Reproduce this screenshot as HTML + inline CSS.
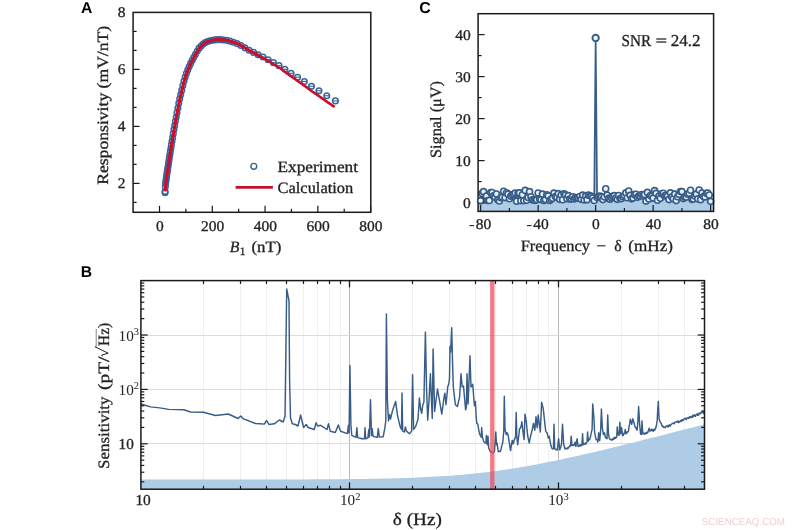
<!DOCTYPE html>
<html><head><meta charset="utf-8"><title>Figure</title>
<style>html,body{margin:0;padding:0;background:#fff;}body{width:800px;height:530px;overflow:hidden;font-family:"Liberation Serif",serif;}svg{display:block;will-change:transform;}text{text-rendering:geometricPrecision;}</style>
</head><body>
<svg width="800" height="530" viewBox="0 0 800 530">
<rect width="800" height="530" fill="#ffffff"/>
<g id="panelA">
<circle cx="165.10" cy="191.50" r="2.8" fill="none" stroke="#36659a" stroke-width="1.5"/>
<circle cx="165.04" cy="192.70" r="2.8" fill="none" stroke="#36659a" stroke-width="1.5"/>
<circle cx="165.31" cy="186.84" r="2.8" fill="none" stroke="#36659a" stroke-width="1.5"/>
<circle cx="165.60" cy="183.57" r="2.8" fill="none" stroke="#36659a" stroke-width="1.5"/>
<circle cx="165.90" cy="181.15" r="2.8" fill="none" stroke="#36659a" stroke-width="1.5"/>
<circle cx="166.21" cy="178.97" r="2.8" fill="none" stroke="#36659a" stroke-width="1.5"/>
<circle cx="166.54" cy="176.52" r="2.8" fill="none" stroke="#36659a" stroke-width="1.5"/>
<circle cx="166.89" cy="174.15" r="2.8" fill="none" stroke="#36659a" stroke-width="1.5"/>
<circle cx="167.25" cy="171.81" r="2.8" fill="none" stroke="#36659a" stroke-width="1.5"/>
<circle cx="167.63" cy="169.36" r="2.8" fill="none" stroke="#36659a" stroke-width="1.5"/>
<circle cx="168.03" cy="166.72" r="2.8" fill="none" stroke="#36659a" stroke-width="1.5"/>
<circle cx="168.45" cy="163.97" r="2.8" fill="none" stroke="#36659a" stroke-width="1.5"/>
<circle cx="168.89" cy="161.10" r="2.8" fill="none" stroke="#36659a" stroke-width="1.5"/>
<circle cx="169.35" cy="158.09" r="2.8" fill="none" stroke="#36659a" stroke-width="1.5"/>
<circle cx="169.84" cy="154.92" r="2.8" fill="none" stroke="#36659a" stroke-width="1.5"/>
<circle cx="170.34" cy="151.63" r="2.8" fill="none" stroke="#36659a" stroke-width="1.5"/>
<circle cx="170.88" cy="148.27" r="2.8" fill="none" stroke="#36659a" stroke-width="1.5"/>
<circle cx="171.44" cy="144.83" r="2.8" fill="none" stroke="#36659a" stroke-width="1.5"/>
<circle cx="172.02" cy="141.27" r="2.8" fill="none" stroke="#36659a" stroke-width="1.5"/>
<circle cx="172.64" cy="137.57" r="2.8" fill="none" stroke="#36659a" stroke-width="1.5"/>
<circle cx="173.28" cy="133.67" r="2.8" fill="none" stroke="#36659a" stroke-width="1.5"/>
<circle cx="173.96" cy="129.59" r="2.8" fill="none" stroke="#36659a" stroke-width="1.5"/>
<circle cx="174.67" cy="125.45" r="2.8" fill="none" stroke="#36659a" stroke-width="1.5"/>
<circle cx="175.42" cy="121.34" r="2.8" fill="none" stroke="#36659a" stroke-width="1.5"/>
<circle cx="176.20" cy="117.18" r="2.8" fill="none" stroke="#36659a" stroke-width="1.5"/>
<circle cx="177.02" cy="112.78" r="2.8" fill="none" stroke="#36659a" stroke-width="1.5"/>
<circle cx="177.89" cy="108.01" r="2.8" fill="none" stroke="#36659a" stroke-width="1.5"/>
<circle cx="178.79" cy="103.24" r="2.8" fill="none" stroke="#36659a" stroke-width="1.5"/>
<circle cx="179.74" cy="98.81" r="2.8" fill="none" stroke="#36659a" stroke-width="1.5"/>
<circle cx="180.73" cy="94.52" r="2.8" fill="none" stroke="#36659a" stroke-width="1.5"/>
<circle cx="181.78" cy="90.13" r="2.8" fill="none" stroke="#36659a" stroke-width="1.5"/>
<circle cx="182.87" cy="85.48" r="2.8" fill="none" stroke="#36659a" stroke-width="1.5"/>
<circle cx="184.02" cy="80.97" r="2.8" fill="none" stroke="#36659a" stroke-width="1.5"/>
<circle cx="185.23" cy="76.98" r="2.8" fill="none" stroke="#36659a" stroke-width="1.5"/>
<circle cx="186.49" cy="73.28" r="2.8" fill="none" stroke="#36659a" stroke-width="1.5"/>
<circle cx="187.82" cy="69.83" r="2.8" fill="none" stroke="#36659a" stroke-width="1.5"/>
<circle cx="189.21" cy="66.57" r="2.8" fill="none" stroke="#36659a" stroke-width="1.5"/>
<circle cx="190.67" cy="63.42" r="2.8" fill="none" stroke="#36659a" stroke-width="1.5"/>
<circle cx="192.21" cy="60.35" r="2.8" fill="none" stroke="#36659a" stroke-width="1.5"/>
<circle cx="193.81" cy="57.32" r="2.8" fill="none" stroke="#36659a" stroke-width="1.5"/>
<circle cx="195.50" cy="54.22" r="2.8" fill="none" stroke="#36659a" stroke-width="1.5"/>
<circle cx="197.27" cy="51.03" r="2.8" fill="none" stroke="#36659a" stroke-width="1.5"/>
<circle cx="199.13" cy="48.16" r="2.8" fill="none" stroke="#36659a" stroke-width="1.5"/>
<circle cx="201.08" cy="45.97" r="2.8" fill="none" stroke="#36659a" stroke-width="1.5"/>
<circle cx="203.12" cy="44.09" r="2.8" fill="none" stroke="#36659a" stroke-width="1.5"/>
<circle cx="205.27" cy="42.59" r="2.8" fill="none" stroke="#36659a" stroke-width="1.5"/>
<circle cx="207.52" cy="41.59" r="2.8" fill="none" stroke="#36659a" stroke-width="1.5"/>
<circle cx="209.88" cy="40.81" r="2.8" fill="none" stroke="#36659a" stroke-width="1.5"/>
<circle cx="212.36" cy="40.27" r="2.8" fill="none" stroke="#36659a" stroke-width="1.5"/>
<circle cx="214.96" cy="39.89" r="2.8" fill="none" stroke="#36659a" stroke-width="1.5"/>
<circle cx="217.68" cy="39.63" r="2.8" fill="none" stroke="#36659a" stroke-width="1.5"/>
<circle cx="220.54" cy="39.66" r="2.8" fill="none" stroke="#36659a" stroke-width="1.5"/>
<circle cx="223.55" cy="39.93" r="2.8" fill="none" stroke="#36659a" stroke-width="1.5"/>
<circle cx="226.69" cy="40.37" r="2.8" fill="none" stroke="#36659a" stroke-width="1.5"/>
<circle cx="230.00" cy="41.16" r="2.8" fill="none" stroke="#36659a" stroke-width="1.5"/>
<circle cx="233.46" cy="42.18" r="2.8" fill="none" stroke="#36659a" stroke-width="1.5"/>
<circle cx="237.10" cy="43.58" r="2.8" fill="none" stroke="#36659a" stroke-width="1.5"/>
<circle cx="240.92" cy="45.57" r="2.8" fill="none" stroke="#36659a" stroke-width="1.5"/>
<circle cx="244.92" cy="47.84" r="2.8" fill="none" stroke="#36659a" stroke-width="1.5"/>
<circle cx="249.12" cy="50.28" r="2.8" fill="none" stroke="#36659a" stroke-width="1.5"/>
<circle cx="253.53" cy="52.39" r="2.8" fill="none" stroke="#36659a" stroke-width="1.5"/>
<line x1="250.93" y1="52.39" x2="256.13" y2="52.39" stroke="#36659a" stroke-width="1.1"/>
<circle cx="258.15" cy="54.77" r="2.8" fill="none" stroke="#36659a" stroke-width="1.5"/>
<line x1="255.55" y1="54.77" x2="260.75" y2="54.77" stroke="#36659a" stroke-width="1.1"/>
<circle cx="263.00" cy="57.05" r="2.8" fill="none" stroke="#36659a" stroke-width="1.5"/>
<line x1="260.40" y1="57.05" x2="265.60" y2="57.05" stroke="#36659a" stroke-width="1.1"/>
<circle cx="268.09" cy="59.68" r="2.8" fill="none" stroke="#36659a" stroke-width="1.5"/>
<line x1="265.49" y1="59.68" x2="270.69" y2="59.68" stroke="#36659a" stroke-width="1.1"/>
<circle cx="273.43" cy="62.67" r="2.8" fill="none" stroke="#36659a" stroke-width="1.5"/>
<line x1="270.83" y1="62.67" x2="276.03" y2="62.67" stroke="#36659a" stroke-width="1.1"/>
<circle cx="279.03" cy="65.63" r="2.8" fill="none" stroke="#36659a" stroke-width="1.5"/>
<line x1="276.43" y1="65.63" x2="281.63" y2="65.63" stroke="#36659a" stroke-width="1.1"/>
<circle cx="284.91" cy="69.30" r="2.8" fill="none" stroke="#36659a" stroke-width="1.5"/>
<line x1="282.31" y1="69.30" x2="287.51" y2="69.30" stroke="#36659a" stroke-width="1.1"/>
<circle cx="291.08" cy="73.27" r="2.8" fill="none" stroke="#36659a" stroke-width="1.5"/>
<line x1="288.48" y1="73.27" x2="293.68" y2="73.27" stroke="#36659a" stroke-width="1.1"/>
<circle cx="297.55" cy="77.22" r="2.8" fill="none" stroke="#36659a" stroke-width="1.5"/>
<line x1="294.95" y1="77.22" x2="300.15" y2="77.22" stroke="#36659a" stroke-width="1.1"/>
<circle cx="304.34" cy="81.43" r="2.8" fill="none" stroke="#36659a" stroke-width="1.5"/>
<line x1="301.74" y1="81.43" x2="306.94" y2="81.43" stroke="#36659a" stroke-width="1.1"/>
<circle cx="311.46" cy="86.22" r="2.8" fill="none" stroke="#36659a" stroke-width="1.5"/>
<line x1="308.86" y1="86.22" x2="314.06" y2="86.22" stroke="#36659a" stroke-width="1.1"/>
<circle cx="318.93" cy="90.75" r="2.8" fill="none" stroke="#36659a" stroke-width="1.5"/>
<line x1="316.33" y1="90.75" x2="321.53" y2="90.75" stroke="#36659a" stroke-width="1.1"/>
<circle cx="326.77" cy="95.73" r="2.8" fill="none" stroke="#36659a" stroke-width="1.5"/>
<line x1="324.17" y1="95.73" x2="329.37" y2="95.73" stroke="#36659a" stroke-width="1.1"/>
<circle cx="335.40" cy="100.90" r="2.8" fill="none" stroke="#36659a" stroke-width="1.5"/>
<line x1="332.80" y1="100.90" x2="338.00" y2="100.90" stroke="#36659a" stroke-width="1.1"/>
<path d="M165.35,190.12 L165.79,183.61 L166.23,180.21 L166.67,177.00 L167.11,173.97 L167.56,171.13 L168.00,168.26 L168.44,165.35 L168.88,162.47 L169.32,159.59 L169.76,156.71 L170.20,153.83 L170.64,150.99 L171.08,148.22 L171.53,145.50 L171.97,142.82 L172.41,140.16 L172.85,137.51 L173.29,134.85 L173.73,132.18 L174.17,129.53 L174.61,126.94 L175.06,124.43 L175.50,122.01 L175.94,119.65 L176.38,117.31 L176.82,114.97 L177.26,112.58 L177.70,110.14 L178.14,107.70 L178.58,105.32 L179.03,103.06 L179.47,100.96 L179.91,98.95 L180.35,97.01 L180.79,95.13 L181.23,93.27 L181.67,91.42 L182.11,89.55 L182.55,87.67 L183.00,85.80 L183.44,83.99 L183.88,82.25 L184.32,80.63 L184.76,79.13 L185.20,77.70 L185.64,76.32 L186.08,75.01 L186.52,73.74 L186.97,72.53 L187.41,71.37 L187.85,70.25 L188.29,69.18 L188.73,68.13 L189.17,67.11 L189.61,66.12 L190.05,65.15 L190.49,64.21 L190.94,63.29 L191.38,62.39 L191.82,61.50 L192.26,60.64 L192.70,59.79 L193.14,58.95 L193.58,58.12 L194.02,57.30 L194.47,56.50 L194.91,55.69 L195.35,54.88 L195.78,54.06 L196.22,53.25 L196.66,52.45 L197.09,51.66 L197.53,50.90 L197.97,50.16 L198.40,49.45 L198.84,48.79 L199.28,48.17 L199.71,47.61 L200.15,47.10 L200.65,46.57 L201.86,45.33 L203.08,44.23 L204.30,43.28 L205.52,42.50 L206.74,41.93 L207.96,41.45 L209.18,41.04 L210.40,40.69 L211.61,40.41 L212.83,40.20 L214.05,40.02 L215.27,39.85 L216.51,39.71 L217.74,39.62 L218.97,39.60 L220.20,39.64 L221.43,39.72 L222.66,39.83 L223.89,39.97 L225.12,40.11 L226.36,40.30 L227.59,40.55 L228.82,40.85 L230.05,41.17 L231.28,41.51 L232.51,41.87 L233.74,42.28 L234.97,42.72 L236.20,43.20 L237.44,43.72 L238.67,44.31 L239.90,44.98 L241.13,45.70 L242.36,46.41 L243.59,47.10 L244.82,47.78 L246.05,48.51 L247.29,49.25 L248.52,50.03 L249.75,50.79 L250.98,51.47 L252.21,52.06 L253.44,52.61 L254.67,53.19 L255.90,53.87 L257.13,54.62 L258.37,55.39 L259.60,56.13 L260.83,56.78 L262.06,57.38 L263.29,57.97 L264.52,58.59 L265.75,59.29 L266.98,60.05 L268.22,60.85 L269.45,61.64 L270.68,62.42 L271.91,63.20 L273.14,63.97 L274.37,64.74 L275.60,65.50 L276.83,66.26 L278.07,67.00 L279.30,67.74 L280.53,68.50 L281.76,69.33 L282.99,70.23 L284.22,71.18 L285.45,72.15 L286.68,73.10 L287.91,74.01 L289.15,74.90 L290.38,75.77 L291.61,76.63 L292.84,77.50 L294.07,78.38 L295.30,79.25 L296.53,80.12 L297.76,80.99 L299.00,81.86 L300.23,82.74 L301.46,83.60 L302.69,84.45 L303.92,85.32 L305.15,86.20 L306.38,87.09 L307.61,88.01 L308.84,88.96 L310.08,89.91 L311.31,90.84 L312.54,91.74 L313.77,92.60 L315.00,93.43 L316.23,94.25 L317.46,95.06 L318.69,95.89 L319.93,96.74 L321.16,97.61 L322.39,98.49 L323.62,99.38 L324.85,100.27 L326.08,101.15 L327.31,102.01 L328.54,102.85 L329.78,103.69 L331.01,104.51 L332.24,105.34 L333.47,106.16 L334.70,106.98" fill="none" stroke="#c8102e" stroke-width="2.6" stroke-linecap="butt" stroke-linejoin="round"/>
<path d="M165.35,190.12 L165.79,183.61 L166.23,180.21 L166.67,177.00 L167.11,173.97 L167.56,171.13 L168.00,168.26 L168.44,165.35 L168.88,162.47 L169.32,159.59 L169.76,156.71 L170.20,153.83 L170.64,150.99 L171.08,148.22 L171.53,145.50 L171.97,142.82 L172.41,140.16 L172.85,137.51 L173.29,134.85 L173.73,132.18 L174.17,129.53 L174.61,126.94 L175.06,124.43 L175.50,122.01 L175.94,119.65 L176.38,117.31 L176.82,114.97 L177.26,112.58 L177.70,110.14 L178.14,107.70 L178.58,105.32 L179.03,103.06 L179.47,100.96 L179.91,98.95 L180.35,97.01 L180.79,95.13 L181.23,93.27 L181.67,91.42 L182.11,89.55 L182.55,87.67 L183.00,85.80 L183.44,83.99 L183.88,82.25 L184.32,80.63 L184.76,79.13 L185.20,77.70 L185.64,76.32 L186.08,75.01 L186.52,73.74 L186.97,72.53 L187.41,71.37 L187.85,70.25 L188.29,69.18 L188.73,68.13 L189.17,67.11 L189.61,66.12 L190.05,65.15 L190.49,64.21 L190.94,63.29 L191.38,62.39 L191.82,61.50 L192.26,60.64 L192.70,59.79 L193.14,58.95 L193.58,58.12 L194.02,57.30 L194.47,56.50 L194.91,55.69 L195.35,54.88 L195.78,54.06 L196.22,53.25 L196.66,52.45 L197.09,51.66 L197.53,50.90 L197.97,50.16 L198.40,49.45 L198.84,48.79 L199.28,48.17 L199.71,47.61 L200.15,47.10 L200.65,46.57 L201.86,45.33 L203.08,44.23 L204.30,43.28 L205.52,42.50 L206.74,41.93 L207.96,41.45 L209.18,41.04 L210.40,40.69 L211.61,40.41 L212.83,40.20 L214.05,40.02 L215.27,39.85 L216.51,39.71 L217.74,39.62 L218.97,39.60 L220.20,39.64 L221.43,39.72 L222.66,39.83 L223.89,39.97 L225.12,40.11 L226.36,40.30 L227.59,40.55 L228.82,40.85 L230.05,41.17 L231.28,41.51 L232.51,41.87 L233.74,42.28 L234.97,42.72 L236.20,43.20 L237.44,43.72 L238.67,44.31 L239.90,44.98 L241.13,45.70 L242.36,46.41 L243.59,47.10 L244.82,47.78 L246.05,48.51 L247.29,49.25 L248.52,50.03 L249.75,50.79 L250.98,51.47 L252.21,52.06 L253.44,52.61 L254.67,53.19 L255.90,53.87 L257.13,54.62 L258.37,55.39 L259.60,56.13 L260.83,56.78" fill="none" stroke="#c8102e" stroke-width="3.0" stroke-linecap="round" stroke-linejoin="round"/>
<line x1="159.50" y1="212.3" x2="159.50" y2="205.8" stroke="#1a1a1a" stroke-width="1.2"/>
<text x="155.93" y="231.20" font-family='"Liberation Serif", serif' font-size="14.8" text-anchor="start" fill="#222" font-weight="normal" font-style="normal" textLength="7.75" lengthAdjust="spacingAndGlyphs" stroke="#222" stroke-width="0.3" >0</text>
<line x1="212.28" y1="212.3" x2="212.28" y2="205.8" stroke="#1a1a1a" stroke-width="1.2"/>
<text x="200.96" y="231.20" font-family='"Liberation Serif", serif' font-size="14.8" text-anchor="start" fill="#222" font-weight="normal" font-style="normal" textLength="23.25" lengthAdjust="spacingAndGlyphs" stroke="#222" stroke-width="0.3" >200</text>
<line x1="265.06" y1="212.3" x2="265.06" y2="205.8" stroke="#1a1a1a" stroke-width="1.2"/>
<text x="253.74" y="231.20" font-family='"Liberation Serif", serif' font-size="14.8" text-anchor="start" fill="#222" font-weight="normal" font-style="normal" textLength="23.25" lengthAdjust="spacingAndGlyphs" stroke="#222" stroke-width="0.3" >400</text>
<line x1="317.84" y1="212.3" x2="317.84" y2="205.8" stroke="#1a1a1a" stroke-width="1.2"/>
<text x="306.52" y="231.20" font-family='"Liberation Serif", serif' font-size="14.8" text-anchor="start" fill="#222" font-weight="normal" font-style="normal" textLength="23.25" lengthAdjust="spacingAndGlyphs" stroke="#222" stroke-width="0.3" >600</text>
<line x1="370.62" y1="212.3" x2="370.62" y2="205.8" stroke="#1a1a1a" stroke-width="1.2"/>
<text x="359.30" y="231.20" font-family='"Liberation Serif", serif' font-size="14.8" text-anchor="start" fill="#222" font-weight="normal" font-style="normal" textLength="23.25" lengthAdjust="spacingAndGlyphs" stroke="#222" stroke-width="0.3" >800</text>
<line x1="185.89" y1="212.3" x2="185.89" y2="208.8" stroke="#1a1a1a" stroke-width="1.2"/>
<line x1="238.67" y1="212.3" x2="238.67" y2="208.8" stroke="#1a1a1a" stroke-width="1.2"/>
<line x1="291.45" y1="212.3" x2="291.45" y2="208.8" stroke="#1a1a1a" stroke-width="1.2"/>
<line x1="344.23" y1="212.3" x2="344.23" y2="208.8" stroke="#1a1a1a" stroke-width="1.2"/>
<line x1="133.1" y1="183.40" x2="139.6" y2="183.40" stroke="#1a1a1a" stroke-width="1.2"/>
<text x="117.85" y="188.10" font-family='"Liberation Serif", serif' font-size="14.8" text-anchor="start" fill="#222" font-weight="normal" font-style="normal" textLength="7.75" lengthAdjust="spacingAndGlyphs" stroke="#222" stroke-width="0.3" >2</text>
<line x1="133.1" y1="126.40" x2="139.6" y2="126.40" stroke="#1a1a1a" stroke-width="1.2"/>
<text x="117.85" y="131.10" font-family='"Liberation Serif", serif' font-size="14.8" text-anchor="start" fill="#222" font-weight="normal" font-style="normal" textLength="7.75" lengthAdjust="spacingAndGlyphs" stroke="#222" stroke-width="0.3" >4</text>
<line x1="133.1" y1="69.40" x2="139.6" y2="69.40" stroke="#1a1a1a" stroke-width="1.2"/>
<text x="117.85" y="74.10" font-family='"Liberation Serif", serif' font-size="14.8" text-anchor="start" fill="#222" font-weight="normal" font-style="normal" textLength="7.75" lengthAdjust="spacingAndGlyphs" stroke="#222" stroke-width="0.3" >6</text>
<text x="117.85" y="17.10" font-family='"Liberation Serif", serif' font-size="14.8" text-anchor="start" fill="#222" font-weight="normal" font-style="normal" textLength="7.75" lengthAdjust="spacingAndGlyphs" stroke="#222" stroke-width="0.3" >8</text>
<line x1="133.1" y1="202.40" x2="136.6" y2="202.40" stroke="#1a1a1a" stroke-width="1.2"/>
<line x1="133.1" y1="164.40" x2="136.6" y2="164.40" stroke="#1a1a1a" stroke-width="1.2"/>
<line x1="133.1" y1="145.40" x2="136.6" y2="145.40" stroke="#1a1a1a" stroke-width="1.2"/>
<line x1="133.1" y1="107.40" x2="136.6" y2="107.40" stroke="#1a1a1a" stroke-width="1.2"/>
<line x1="133.1" y1="88.40" x2="136.6" y2="88.40" stroke="#1a1a1a" stroke-width="1.2"/>
<line x1="133.1" y1="50.40" x2="136.6" y2="50.40" stroke="#1a1a1a" stroke-width="1.2"/>
<line x1="133.1" y1="31.40" x2="136.6" y2="31.40" stroke="#1a1a1a" stroke-width="1.2"/>
<rect x="133.1" y="12.4" width="237.70" height="199.90" fill="none" stroke="#1a1a1a" stroke-width="1.5"/>
<circle cx="253.8" cy="166.3" r="2.9" fill="none" stroke="#36659a" stroke-width="1.4"/>
<line x1="235.6" y1="187.3" x2="272.9" y2="187.3" stroke="#c8102e" stroke-width="2.7"/>
<text x="277.6" y="172.0" font-family='"Liberation Serif", serif' font-size="15.8" text-anchor="start" fill="#222" font-weight="normal" font-style="normal" textLength="80.4" lengthAdjust="spacingAndGlyphs" stroke="#222" stroke-width="0.3" >Experiment</text>
<text x="277.5" y="193.2" font-family='"Liberation Serif", serif' font-size="15.8" text-anchor="start" fill="#222" font-weight="normal" font-style="normal" textLength="75.8" lengthAdjust="spacingAndGlyphs" stroke="#222" stroke-width="0.3" >Calculation</text>
<text transform="translate(108.4,105.3) rotate(-90)" font-family='"Liberation Serif", serif' font-size="15.8" text-anchor="middle" fill="#222" stroke="#222" stroke-width="0.3" textLength="159" lengthAdjust="spacingAndGlyphs">Responsivity (mV/nT)</text>
<text x="229.8" y="251.9" font-family='"Liberation Serif", serif' font-size="15.8" text-anchor="start" fill="#222" font-weight="normal" font-style="italic" stroke="#222" stroke-width="0.3" >B</text>
<text x="239.8" y="255.4" font-family='"Liberation Serif", serif' font-size="11.2" text-anchor="start" fill="#222" font-weight="normal" font-style="normal" stroke="#222" stroke-width="0.3" >1</text>
<text x="251.4" y="251.9" font-family='"Liberation Serif", serif' font-size="15.8" text-anchor="start" fill="#222" font-weight="normal" font-style="normal" textLength="30.0" lengthAdjust="spacingAndGlyphs" stroke="#222" stroke-width="0.3" >(nT)</text>
<text x="81.0" y="12.5" font-family='"Liberation Sans", sans-serif' font-size="15.7" text-anchor="start" fill="#000" font-weight="bold" font-style="normal" >A</text>
</g>
<g id="panelC">
<path d="M478.1,211.4 L478.1,200.71 L480.65,200.71 L482.09,193.43 L483.52,191.68 L484.96,199.82 L486.40,196.08 L487.84,200.51 L489.27,200.53 L490.71,192.57 L492.15,192.52 L493.59,195.87 L495.02,197.09 L496.46,194.03 L497.90,199.78 L499.34,200.95 L500.77,197.72 L502.21,197.05 L503.65,191.26 L505.09,197.58 L506.52,192.75 L507.96,194.19 L509.40,198.77 L510.84,196.05 L512.27,194.86 L513.71,194.14 L515.15,193.12 L516.59,201.13 L518.02,193.56 L519.46,192.91 L520.90,200.66 L522.34,194.75 L523.77,200.56 L525.21,190.42 L526.65,200.33 L528.09,197.52 L529.52,191.65 L530.96,196.70 L532.40,199.77 L533.84,200.23 L535.27,200.34 L536.71,199.60 L538.15,193.00 L539.59,198.86 L541.02,199.62 L542.46,194.07 L543.90,200.46 L545.34,199.60 L546.77,194.80 L548.21,195.99 L549.65,200.53 L551.09,199.36 L552.52,198.30 L553.96,193.11 L555.40,196.56 L556.84,196.89 L558.27,193.57 L559.71,199.31 L561.15,195.10 L562.59,199.73 L564.02,193.81 L565.46,194.94 L566.90,198.78 L568.34,195.58 L569.77,199.12 L571.21,198.83 L572.65,196.73 L574.09,198.97 L575.52,197.65 L576.96,198.07 L578.40,198.10 L579.84,196.49 L581.27,199.31 L582.71,195.11 L584.15,199.96 L585.59,196.09 L587.02,199.67 L588.46,195.16 L589.90,195.75 L591.34,196.34 L592.77,197.80 L594.21,200.50 L595.65,37.96 L597.09,197.56 L598.52,196.59 L599.96,196.10 L601.40,196.91 L602.84,199.62 L604.27,196.80 L605.71,188.74 L607.15,195.05 L608.59,198.44 L610.02,199.15 L611.46,197.67 L612.90,196.44 L614.34,195.68 L615.77,197.98 L617.21,199.34 L618.65,195.45 L620.09,198.57 L621.52,198.58 L622.96,196.66 L624.40,195.50 L625.84,192.90 L627.27,197.71 L628.71,190.96 L630.15,195.38 L631.59,198.82 L633.02,198.08 L634.46,194.66 L635.90,194.29 L637.34,197.22 L638.77,196.08 L640.21,196.08 L641.65,194.49 L643.09,195.59 L644.52,194.49 L645.96,201.07 L647.40,192.39 L648.84,199.12 L650.27,195.48 L651.71,196.21 L653.15,198.12 L654.59,190.65 L656.02,193.35 L657.46,200.24 L658.90,196.12 L660.34,198.26 L661.77,193.84 L663.21,193.24 L664.65,195.89 L666.09,195.26 L667.52,195.97 L668.96,199.59 L670.40,192.91 L671.84,196.89 L673.27,198.73 L674.71,194.05 L676.15,200.59 L677.59,196.78 L679.02,194.38 L680.46,191.54 L681.90,191.62 L683.34,198.61 L684.77,197.22 L686.21,197.07 L687.65,194.20 L689.09,193.23 L690.52,190.26 L691.96,199.53 L693.40,198.98 L694.84,196.00 L696.27,194.16 L697.71,198.80 L699.15,190.00 L700.59,199.63 L702.02,193.02 L703.46,196.58 L704.90,196.90 L706.34,193.36 L707.77,193.01 L709.21,195.04 L710.65,201.34 L713.6,201.34 L713.6,211.4 Z" fill="#afcce6" stroke="none"/>
<path d="M480.65,200.71 L482.09,193.43 L483.52,191.68 L484.96,199.82 L486.40,196.08 L487.84,200.51 L489.27,200.53 L490.71,192.57 L492.15,192.52 L493.59,195.87 L495.02,197.09 L496.46,194.03 L497.90,199.78 L499.34,200.95 L500.77,197.72 L502.21,197.05 L503.65,191.26 L505.09,197.58 L506.52,192.75 L507.96,194.19 L509.40,198.77 L510.84,196.05 L512.27,194.86 L513.71,194.14 L515.15,193.12 L516.59,201.13 L518.02,193.56 L519.46,192.91 L520.90,200.66 L522.34,194.75 L523.77,200.56 L525.21,190.42 L526.65,200.33 L528.09,197.52 L529.52,191.65 L530.96,196.70 L532.40,199.77 L533.84,200.23 L535.27,200.34 L536.71,199.60 L538.15,193.00 L539.59,198.86 L541.02,199.62 L542.46,194.07 L543.90,200.46 L545.34,199.60 L546.77,194.80 L548.21,195.99 L549.65,200.53 L551.09,199.36 L552.52,198.30 L553.96,193.11 L555.40,196.56 L556.84,196.89 L558.27,193.57 L559.71,199.31 L561.15,195.10 L562.59,199.73 L564.02,193.81 L565.46,194.94 L566.90,198.78 L568.34,195.58 L569.77,199.12 L571.21,198.83 L572.65,196.73 L574.09,198.97 L575.52,197.65 L576.96,198.07 L578.40,198.10 L579.84,196.49 L581.27,199.31 L582.71,195.11 L584.15,199.96 L585.59,196.09 L587.02,199.67 L588.46,195.16 L589.90,195.75 L591.34,196.34 L592.77,197.80 L594.21,200.50 L595.65,37.96 L597.09,197.56 L598.52,196.59 L599.96,196.10 L601.40,196.91 L602.84,199.62 L604.27,196.80 L605.71,188.74 L607.15,195.05 L608.59,198.44 L610.02,199.15 L611.46,197.67 L612.90,196.44 L614.34,195.68 L615.77,197.98 L617.21,199.34 L618.65,195.45 L620.09,198.57 L621.52,198.58 L622.96,196.66 L624.40,195.50 L625.84,192.90 L627.27,197.71 L628.71,190.96 L630.15,195.38 L631.59,198.82 L633.02,198.08 L634.46,194.66 L635.90,194.29 L637.34,197.22 L638.77,196.08 L640.21,196.08 L641.65,194.49 L643.09,195.59 L644.52,194.49 L645.96,201.07 L647.40,192.39 L648.84,199.12 L650.27,195.48 L651.71,196.21 L653.15,198.12 L654.59,190.65 L656.02,193.35 L657.46,200.24 L658.90,196.12 L660.34,198.26 L661.77,193.84 L663.21,193.24 L664.65,195.89 L666.09,195.26 L667.52,195.97 L668.96,199.59 L670.40,192.91 L671.84,196.89 L673.27,198.73 L674.71,194.05 L676.15,200.59 L677.59,196.78 L679.02,194.38 L680.46,191.54 L681.90,191.62 L683.34,198.61 L684.77,197.22 L686.21,197.07 L687.65,194.20 L689.09,193.23 L690.52,190.26 L691.96,199.53 L693.40,198.98 L694.84,196.00 L696.27,194.16 L697.71,198.80 L699.15,190.00 L700.59,199.63 L702.02,193.02 L703.46,196.58 L704.90,196.90 L706.34,193.36 L707.77,193.01 L709.21,195.04 L710.65,201.34" fill="none" stroke="#375d88" stroke-width="1.7" stroke-linejoin="round"/>
<circle cx="482.09" cy="193.43" r="3.0" fill="#eaf3fb" stroke="#375d88" stroke-width="1.65"/>
<circle cx="483.52" cy="191.68" r="3.0" fill="#eaf3fb" stroke="#375d88" stroke-width="1.65"/>
<circle cx="484.96" cy="199.82" r="3.0" fill="#eaf3fb" stroke="#375d88" stroke-width="1.65"/>
<circle cx="486.40" cy="196.08" r="3.0" fill="#eaf3fb" stroke="#375d88" stroke-width="1.65"/>
<circle cx="487.84" cy="200.51" r="3.0" fill="#eaf3fb" stroke="#375d88" stroke-width="1.65"/>
<circle cx="489.27" cy="200.53" r="3.0" fill="#eaf3fb" stroke="#375d88" stroke-width="1.65"/>
<circle cx="490.71" cy="192.57" r="3.0" fill="#eaf3fb" stroke="#375d88" stroke-width="1.65"/>
<circle cx="492.15" cy="192.52" r="3.0" fill="#eaf3fb" stroke="#375d88" stroke-width="1.65"/>
<circle cx="493.59" cy="195.87" r="3.0" fill="#eaf3fb" stroke="#375d88" stroke-width="1.65"/>
<circle cx="495.02" cy="197.09" r="3.0" fill="#eaf3fb" stroke="#375d88" stroke-width="1.65"/>
<circle cx="496.46" cy="194.03" r="3.0" fill="#eaf3fb" stroke="#375d88" stroke-width="1.65"/>
<circle cx="497.90" cy="199.78" r="3.0" fill="#eaf3fb" stroke="#375d88" stroke-width="1.65"/>
<circle cx="499.34" cy="200.95" r="3.0" fill="#eaf3fb" stroke="#375d88" stroke-width="1.65"/>
<circle cx="500.77" cy="197.72" r="3.0" fill="#eaf3fb" stroke="#375d88" stroke-width="1.65"/>
<circle cx="502.21" cy="197.05" r="3.0" fill="#eaf3fb" stroke="#375d88" stroke-width="1.65"/>
<circle cx="503.65" cy="191.26" r="3.0" fill="#eaf3fb" stroke="#375d88" stroke-width="1.65"/>
<circle cx="505.09" cy="197.58" r="3.0" fill="#eaf3fb" stroke="#375d88" stroke-width="1.65"/>
<circle cx="506.52" cy="192.75" r="3.0" fill="#eaf3fb" stroke="#375d88" stroke-width="1.65"/>
<circle cx="507.96" cy="194.19" r="3.0" fill="#eaf3fb" stroke="#375d88" stroke-width="1.65"/>
<circle cx="509.40" cy="198.77" r="3.0" fill="#eaf3fb" stroke="#375d88" stroke-width="1.65"/>
<circle cx="510.84" cy="196.05" r="3.0" fill="#eaf3fb" stroke="#375d88" stroke-width="1.65"/>
<circle cx="512.27" cy="194.86" r="3.0" fill="#eaf3fb" stroke="#375d88" stroke-width="1.65"/>
<circle cx="513.71" cy="194.14" r="3.0" fill="#eaf3fb" stroke="#375d88" stroke-width="1.65"/>
<circle cx="515.15" cy="193.12" r="3.0" fill="#eaf3fb" stroke="#375d88" stroke-width="1.65"/>
<circle cx="516.59" cy="201.13" r="3.0" fill="#eaf3fb" stroke="#375d88" stroke-width="1.65"/>
<circle cx="518.02" cy="193.56" r="3.0" fill="#eaf3fb" stroke="#375d88" stroke-width="1.65"/>
<circle cx="519.46" cy="192.91" r="3.0" fill="#eaf3fb" stroke="#375d88" stroke-width="1.65"/>
<circle cx="520.90" cy="200.66" r="3.0" fill="#eaf3fb" stroke="#375d88" stroke-width="1.65"/>
<circle cx="522.34" cy="194.75" r="3.0" fill="#eaf3fb" stroke="#375d88" stroke-width="1.65"/>
<circle cx="523.77" cy="200.56" r="3.0" fill="#eaf3fb" stroke="#375d88" stroke-width="1.65"/>
<circle cx="525.21" cy="190.42" r="3.0" fill="#eaf3fb" stroke="#375d88" stroke-width="1.65"/>
<circle cx="526.65" cy="200.33" r="3.0" fill="#eaf3fb" stroke="#375d88" stroke-width="1.65"/>
<circle cx="528.09" cy="197.52" r="3.0" fill="#eaf3fb" stroke="#375d88" stroke-width="1.65"/>
<circle cx="529.52" cy="191.65" r="3.0" fill="#eaf3fb" stroke="#375d88" stroke-width="1.65"/>
<circle cx="530.96" cy="196.70" r="3.0" fill="#eaf3fb" stroke="#375d88" stroke-width="1.65"/>
<circle cx="532.40" cy="199.77" r="3.0" fill="#eaf3fb" stroke="#375d88" stroke-width="1.65"/>
<circle cx="533.84" cy="200.23" r="3.0" fill="#eaf3fb" stroke="#375d88" stroke-width="1.65"/>
<circle cx="535.27" cy="200.34" r="3.0" fill="#eaf3fb" stroke="#375d88" stroke-width="1.65"/>
<circle cx="536.71" cy="199.60" r="3.0" fill="#eaf3fb" stroke="#375d88" stroke-width="1.65"/>
<circle cx="538.15" cy="193.00" r="3.0" fill="#eaf3fb" stroke="#375d88" stroke-width="1.65"/>
<circle cx="539.59" cy="198.86" r="3.0" fill="#eaf3fb" stroke="#375d88" stroke-width="1.65"/>
<circle cx="541.02" cy="199.62" r="3.0" fill="#eaf3fb" stroke="#375d88" stroke-width="1.65"/>
<circle cx="542.46" cy="194.07" r="3.0" fill="#eaf3fb" stroke="#375d88" stroke-width="1.65"/>
<circle cx="543.90" cy="200.46" r="3.0" fill="#eaf3fb" stroke="#375d88" stroke-width="1.65"/>
<circle cx="545.34" cy="199.60" r="3.0" fill="#eaf3fb" stroke="#375d88" stroke-width="1.65"/>
<circle cx="546.77" cy="194.80" r="3.0" fill="#eaf3fb" stroke="#375d88" stroke-width="1.65"/>
<circle cx="548.21" cy="195.99" r="3.0" fill="#eaf3fb" stroke="#375d88" stroke-width="1.65"/>
<circle cx="549.65" cy="200.53" r="3.0" fill="#eaf3fb" stroke="#375d88" stroke-width="1.65"/>
<circle cx="551.09" cy="199.36" r="3.0" fill="#eaf3fb" stroke="#375d88" stroke-width="1.65"/>
<circle cx="552.52" cy="198.30" r="3.0" fill="#eaf3fb" stroke="#375d88" stroke-width="1.65"/>
<circle cx="553.96" cy="193.11" r="3.0" fill="#eaf3fb" stroke="#375d88" stroke-width="1.65"/>
<circle cx="555.40" cy="196.56" r="3.0" fill="#eaf3fb" stroke="#375d88" stroke-width="1.65"/>
<circle cx="556.84" cy="196.89" r="3.0" fill="#eaf3fb" stroke="#375d88" stroke-width="1.65"/>
<circle cx="558.27" cy="193.57" r="3.0" fill="#eaf3fb" stroke="#375d88" stroke-width="1.65"/>
<circle cx="559.71" cy="199.31" r="3.0" fill="#eaf3fb" stroke="#375d88" stroke-width="1.65"/>
<circle cx="561.15" cy="195.10" r="3.0" fill="#eaf3fb" stroke="#375d88" stroke-width="1.65"/>
<circle cx="562.59" cy="199.73" r="3.0" fill="#eaf3fb" stroke="#375d88" stroke-width="1.65"/>
<circle cx="564.02" cy="193.81" r="3.0" fill="#eaf3fb" stroke="#375d88" stroke-width="1.65"/>
<circle cx="565.46" cy="194.94" r="3.0" fill="#eaf3fb" stroke="#375d88" stroke-width="1.65"/>
<circle cx="566.90" cy="198.78" r="3.0" fill="#eaf3fb" stroke="#375d88" stroke-width="1.65"/>
<circle cx="568.34" cy="195.58" r="3.0" fill="#eaf3fb" stroke="#375d88" stroke-width="1.65"/>
<circle cx="569.77" cy="199.12" r="3.0" fill="#eaf3fb" stroke="#375d88" stroke-width="1.65"/>
<circle cx="571.21" cy="198.83" r="3.0" fill="#eaf3fb" stroke="#375d88" stroke-width="1.65"/>
<circle cx="572.65" cy="196.73" r="3.0" fill="#eaf3fb" stroke="#375d88" stroke-width="1.65"/>
<circle cx="574.09" cy="198.97" r="3.0" fill="#eaf3fb" stroke="#375d88" stroke-width="1.65"/>
<circle cx="575.52" cy="197.65" r="3.0" fill="#eaf3fb" stroke="#375d88" stroke-width="1.65"/>
<circle cx="576.96" cy="198.07" r="3.0" fill="#eaf3fb" stroke="#375d88" stroke-width="1.65"/>
<circle cx="578.40" cy="198.10" r="3.0" fill="#eaf3fb" stroke="#375d88" stroke-width="1.65"/>
<circle cx="579.84" cy="196.49" r="3.0" fill="#eaf3fb" stroke="#375d88" stroke-width="1.65"/>
<circle cx="581.27" cy="199.31" r="3.0" fill="#eaf3fb" stroke="#375d88" stroke-width="1.65"/>
<circle cx="582.71" cy="195.11" r="3.0" fill="#eaf3fb" stroke="#375d88" stroke-width="1.65"/>
<circle cx="584.15" cy="199.96" r="3.0" fill="#eaf3fb" stroke="#375d88" stroke-width="1.65"/>
<circle cx="585.59" cy="196.09" r="3.0" fill="#eaf3fb" stroke="#375d88" stroke-width="1.65"/>
<circle cx="587.02" cy="199.67" r="3.0" fill="#eaf3fb" stroke="#375d88" stroke-width="1.65"/>
<circle cx="588.46" cy="195.16" r="3.0" fill="#eaf3fb" stroke="#375d88" stroke-width="1.65"/>
<circle cx="589.90" cy="195.75" r="3.0" fill="#eaf3fb" stroke="#375d88" stroke-width="1.65"/>
<circle cx="591.34" cy="196.34" r="3.0" fill="#eaf3fb" stroke="#375d88" stroke-width="1.65"/>
<circle cx="592.77" cy="197.80" r="3.0" fill="#eaf3fb" stroke="#375d88" stroke-width="1.65"/>
<circle cx="594.21" cy="200.50" r="3.0" fill="#eaf3fb" stroke="#375d88" stroke-width="1.65"/>
<circle cx="595.65" cy="37.96" r="3.2" fill="#eaf3fb" stroke="#375d88" stroke-width="1.9"/>
<circle cx="597.09" cy="197.56" r="3.0" fill="#eaf3fb" stroke="#375d88" stroke-width="1.65"/>
<circle cx="598.52" cy="196.59" r="3.0" fill="#eaf3fb" stroke="#375d88" stroke-width="1.65"/>
<circle cx="599.96" cy="196.10" r="3.0" fill="#eaf3fb" stroke="#375d88" stroke-width="1.65"/>
<circle cx="601.40" cy="196.91" r="3.0" fill="#eaf3fb" stroke="#375d88" stroke-width="1.65"/>
<circle cx="602.84" cy="199.62" r="3.0" fill="#eaf3fb" stroke="#375d88" stroke-width="1.65"/>
<circle cx="604.27" cy="196.80" r="3.0" fill="#eaf3fb" stroke="#375d88" stroke-width="1.65"/>
<circle cx="605.71" cy="188.74" r="3.0" fill="#eaf3fb" stroke="#375d88" stroke-width="1.65"/>
<circle cx="607.15" cy="195.05" r="3.0" fill="#eaf3fb" stroke="#375d88" stroke-width="1.65"/>
<circle cx="608.59" cy="198.44" r="3.0" fill="#eaf3fb" stroke="#375d88" stroke-width="1.65"/>
<circle cx="610.02" cy="199.15" r="3.0" fill="#eaf3fb" stroke="#375d88" stroke-width="1.65"/>
<circle cx="611.46" cy="197.67" r="3.0" fill="#eaf3fb" stroke="#375d88" stroke-width="1.65"/>
<circle cx="612.90" cy="196.44" r="3.0" fill="#eaf3fb" stroke="#375d88" stroke-width="1.65"/>
<circle cx="614.34" cy="195.68" r="3.0" fill="#eaf3fb" stroke="#375d88" stroke-width="1.65"/>
<circle cx="615.77" cy="197.98" r="3.0" fill="#eaf3fb" stroke="#375d88" stroke-width="1.65"/>
<circle cx="617.21" cy="199.34" r="3.0" fill="#eaf3fb" stroke="#375d88" stroke-width="1.65"/>
<circle cx="618.65" cy="195.45" r="3.0" fill="#eaf3fb" stroke="#375d88" stroke-width="1.65"/>
<circle cx="620.09" cy="198.57" r="3.0" fill="#eaf3fb" stroke="#375d88" stroke-width="1.65"/>
<circle cx="621.52" cy="198.58" r="3.0" fill="#eaf3fb" stroke="#375d88" stroke-width="1.65"/>
<circle cx="622.96" cy="196.66" r="3.0" fill="#eaf3fb" stroke="#375d88" stroke-width="1.65"/>
<circle cx="624.40" cy="195.50" r="3.0" fill="#eaf3fb" stroke="#375d88" stroke-width="1.65"/>
<circle cx="625.84" cy="192.90" r="3.0" fill="#eaf3fb" stroke="#375d88" stroke-width="1.65"/>
<circle cx="627.27" cy="197.71" r="3.0" fill="#eaf3fb" stroke="#375d88" stroke-width="1.65"/>
<circle cx="628.71" cy="190.96" r="3.0" fill="#eaf3fb" stroke="#375d88" stroke-width="1.65"/>
<circle cx="630.15" cy="195.38" r="3.0" fill="#eaf3fb" stroke="#375d88" stroke-width="1.65"/>
<circle cx="631.59" cy="198.82" r="3.0" fill="#eaf3fb" stroke="#375d88" stroke-width="1.65"/>
<circle cx="633.02" cy="198.08" r="3.0" fill="#eaf3fb" stroke="#375d88" stroke-width="1.65"/>
<circle cx="634.46" cy="194.66" r="3.0" fill="#eaf3fb" stroke="#375d88" stroke-width="1.65"/>
<circle cx="635.90" cy="194.29" r="3.0" fill="#eaf3fb" stroke="#375d88" stroke-width="1.65"/>
<circle cx="637.34" cy="197.22" r="3.0" fill="#eaf3fb" stroke="#375d88" stroke-width="1.65"/>
<circle cx="638.77" cy="196.08" r="3.0" fill="#eaf3fb" stroke="#375d88" stroke-width="1.65"/>
<circle cx="640.21" cy="196.08" r="3.0" fill="#eaf3fb" stroke="#375d88" stroke-width="1.65"/>
<circle cx="641.65" cy="194.49" r="3.0" fill="#eaf3fb" stroke="#375d88" stroke-width="1.65"/>
<circle cx="643.09" cy="195.59" r="3.0" fill="#eaf3fb" stroke="#375d88" stroke-width="1.65"/>
<circle cx="644.52" cy="194.49" r="3.0" fill="#eaf3fb" stroke="#375d88" stroke-width="1.65"/>
<circle cx="645.96" cy="201.07" r="3.0" fill="#eaf3fb" stroke="#375d88" stroke-width="1.65"/>
<circle cx="647.40" cy="192.39" r="3.0" fill="#eaf3fb" stroke="#375d88" stroke-width="1.65"/>
<circle cx="648.84" cy="199.12" r="3.0" fill="#eaf3fb" stroke="#375d88" stroke-width="1.65"/>
<circle cx="650.27" cy="195.48" r="3.0" fill="#eaf3fb" stroke="#375d88" stroke-width="1.65"/>
<circle cx="651.71" cy="196.21" r="3.0" fill="#eaf3fb" stroke="#375d88" stroke-width="1.65"/>
<circle cx="653.15" cy="198.12" r="3.0" fill="#eaf3fb" stroke="#375d88" stroke-width="1.65"/>
<circle cx="654.59" cy="190.65" r="3.0" fill="#eaf3fb" stroke="#375d88" stroke-width="1.65"/>
<circle cx="656.02" cy="193.35" r="3.0" fill="#eaf3fb" stroke="#375d88" stroke-width="1.65"/>
<circle cx="657.46" cy="200.24" r="3.0" fill="#eaf3fb" stroke="#375d88" stroke-width="1.65"/>
<circle cx="658.90" cy="196.12" r="3.0" fill="#eaf3fb" stroke="#375d88" stroke-width="1.65"/>
<circle cx="660.34" cy="198.26" r="3.0" fill="#eaf3fb" stroke="#375d88" stroke-width="1.65"/>
<circle cx="661.77" cy="193.84" r="3.0" fill="#eaf3fb" stroke="#375d88" stroke-width="1.65"/>
<circle cx="663.21" cy="193.24" r="3.0" fill="#eaf3fb" stroke="#375d88" stroke-width="1.65"/>
<circle cx="664.65" cy="195.89" r="3.0" fill="#eaf3fb" stroke="#375d88" stroke-width="1.65"/>
<circle cx="666.09" cy="195.26" r="3.0" fill="#eaf3fb" stroke="#375d88" stroke-width="1.65"/>
<circle cx="667.52" cy="195.97" r="3.0" fill="#eaf3fb" stroke="#375d88" stroke-width="1.65"/>
<circle cx="668.96" cy="199.59" r="3.0" fill="#eaf3fb" stroke="#375d88" stroke-width="1.65"/>
<circle cx="670.40" cy="192.91" r="3.0" fill="#eaf3fb" stroke="#375d88" stroke-width="1.65"/>
<circle cx="671.84" cy="196.89" r="3.0" fill="#eaf3fb" stroke="#375d88" stroke-width="1.65"/>
<circle cx="673.27" cy="198.73" r="3.0" fill="#eaf3fb" stroke="#375d88" stroke-width="1.65"/>
<circle cx="674.71" cy="194.05" r="3.0" fill="#eaf3fb" stroke="#375d88" stroke-width="1.65"/>
<circle cx="676.15" cy="200.59" r="3.0" fill="#eaf3fb" stroke="#375d88" stroke-width="1.65"/>
<circle cx="677.59" cy="196.78" r="3.0" fill="#eaf3fb" stroke="#375d88" stroke-width="1.65"/>
<circle cx="679.02" cy="194.38" r="3.0" fill="#eaf3fb" stroke="#375d88" stroke-width="1.65"/>
<circle cx="680.46" cy="191.54" r="3.0" fill="#eaf3fb" stroke="#375d88" stroke-width="1.65"/>
<circle cx="681.90" cy="191.62" r="3.0" fill="#eaf3fb" stroke="#375d88" stroke-width="1.65"/>
<circle cx="683.34" cy="198.61" r="3.0" fill="#eaf3fb" stroke="#375d88" stroke-width="1.65"/>
<circle cx="684.77" cy="197.22" r="3.0" fill="#eaf3fb" stroke="#375d88" stroke-width="1.65"/>
<circle cx="686.21" cy="197.07" r="3.0" fill="#eaf3fb" stroke="#375d88" stroke-width="1.65"/>
<circle cx="687.65" cy="194.20" r="3.0" fill="#eaf3fb" stroke="#375d88" stroke-width="1.65"/>
<circle cx="689.09" cy="193.23" r="3.0" fill="#eaf3fb" stroke="#375d88" stroke-width="1.65"/>
<circle cx="690.52" cy="190.26" r="3.0" fill="#eaf3fb" stroke="#375d88" stroke-width="1.65"/>
<circle cx="691.96" cy="199.53" r="3.0" fill="#eaf3fb" stroke="#375d88" stroke-width="1.65"/>
<circle cx="693.40" cy="198.98" r="3.0" fill="#eaf3fb" stroke="#375d88" stroke-width="1.65"/>
<circle cx="694.84" cy="196.00" r="3.0" fill="#eaf3fb" stroke="#375d88" stroke-width="1.65"/>
<circle cx="696.27" cy="194.16" r="3.0" fill="#eaf3fb" stroke="#375d88" stroke-width="1.65"/>
<circle cx="697.71" cy="198.80" r="3.0" fill="#eaf3fb" stroke="#375d88" stroke-width="1.65"/>
<circle cx="699.15" cy="190.00" r="3.0" fill="#eaf3fb" stroke="#375d88" stroke-width="1.65"/>
<circle cx="700.59" cy="199.63" r="3.0" fill="#eaf3fb" stroke="#375d88" stroke-width="1.65"/>
<circle cx="702.02" cy="193.02" r="3.0" fill="#eaf3fb" stroke="#375d88" stroke-width="1.65"/>
<circle cx="703.46" cy="196.58" r="3.0" fill="#eaf3fb" stroke="#375d88" stroke-width="1.65"/>
<circle cx="704.90" cy="196.90" r="3.0" fill="#eaf3fb" stroke="#375d88" stroke-width="1.65"/>
<circle cx="706.34" cy="193.36" r="3.0" fill="#eaf3fb" stroke="#375d88" stroke-width="1.65"/>
<circle cx="707.77" cy="193.01" r="3.0" fill="#eaf3fb" stroke="#375d88" stroke-width="1.65"/>
<circle cx="709.21" cy="195.04" r="3.0" fill="#eaf3fb" stroke="#375d88" stroke-width="1.65"/>
<circle cx="710.65" cy="201.34" r="3.0" fill="#eaf3fb" stroke="#375d88" stroke-width="1.65"/>
<line x1="480.65" y1="211.4" x2="480.65" y2="204.9" stroke="#1a1a1a" stroke-width="1.2"/>
<line x1="469.45" y1="225.60" x2="474.05" y2="225.60" stroke="#222" stroke-width="1.1"/>
<text x="475.75" y="229.20" font-family='"Liberation Serif", serif' font-size="14.8" text-anchor="start" fill="#222" font-weight="normal" font-style="normal" textLength="15.50" lengthAdjust="spacingAndGlyphs" stroke="#222" stroke-width="0.3" >80</text>
<line x1="538.15" y1="211.4" x2="538.15" y2="204.9" stroke="#1a1a1a" stroke-width="1.2"/>
<line x1="526.95" y1="225.60" x2="531.55" y2="225.60" stroke="#222" stroke-width="1.1"/>
<text x="533.25" y="229.20" font-family='"Liberation Serif", serif' font-size="14.8" text-anchor="start" fill="#222" font-weight="normal" font-style="normal" textLength="15.50" lengthAdjust="spacingAndGlyphs" stroke="#222" stroke-width="0.3" >40</text>
<line x1="595.65" y1="211.4" x2="595.65" y2="204.9" stroke="#1a1a1a" stroke-width="1.2"/>
<text x="592.07" y="229.20" font-family='"Liberation Serif", serif' font-size="14.8" text-anchor="start" fill="#222" font-weight="normal" font-style="normal" textLength="7.75" lengthAdjust="spacingAndGlyphs" stroke="#222" stroke-width="0.3" >0</text>
<line x1="653.15" y1="211.4" x2="653.15" y2="204.9" stroke="#1a1a1a" stroke-width="1.2"/>
<text x="645.70" y="229.20" font-family='"Liberation Serif", serif' font-size="14.8" text-anchor="start" fill="#222" font-weight="normal" font-style="normal" textLength="15.50" lengthAdjust="spacingAndGlyphs" stroke="#222" stroke-width="0.3" >40</text>
<line x1="710.65" y1="211.4" x2="710.65" y2="204.9" stroke="#1a1a1a" stroke-width="1.2"/>
<text x="703.20" y="229.20" font-family='"Liberation Serif", serif' font-size="14.8" text-anchor="start" fill="#222" font-weight="normal" font-style="normal" textLength="15.50" lengthAdjust="spacingAndGlyphs" stroke="#222" stroke-width="0.3" >80</text>
<line x1="509.40" y1="211.4" x2="509.40" y2="207.9" stroke="#1a1a1a" stroke-width="1.2"/>
<line x1="566.90" y1="211.4" x2="566.90" y2="207.9" stroke="#1a1a1a" stroke-width="1.2"/>
<line x1="624.40" y1="211.4" x2="624.40" y2="207.9" stroke="#1a1a1a" stroke-width="1.2"/>
<line x1="681.90" y1="211.4" x2="681.90" y2="207.9" stroke="#1a1a1a" stroke-width="1.2"/>
<line x1="478.1" y1="202.60" x2="484.6" y2="202.60" stroke="#1a1a1a" stroke-width="1.2"/>
<text x="463.05" y="207.50" font-family='"Liberation Serif", serif' font-size="14.8" text-anchor="start" fill="#222" font-weight="normal" font-style="normal" textLength="7.75" lengthAdjust="spacingAndGlyphs" stroke="#222" stroke-width="0.3" >0</text>
<line x1="478.1" y1="160.60" x2="484.6" y2="160.60" stroke="#1a1a1a" stroke-width="1.2"/>
<text x="455.30" y="165.50" font-family='"Liberation Serif", serif' font-size="14.8" text-anchor="start" fill="#222" font-weight="normal" font-style="normal" textLength="15.50" lengthAdjust="spacingAndGlyphs" stroke="#222" stroke-width="0.3" >10</text>
<line x1="478.1" y1="118.60" x2="484.6" y2="118.60" stroke="#1a1a1a" stroke-width="1.2"/>
<text x="455.30" y="123.50" font-family='"Liberation Serif", serif' font-size="14.8" text-anchor="start" fill="#222" font-weight="normal" font-style="normal" textLength="15.50" lengthAdjust="spacingAndGlyphs" stroke="#222" stroke-width="0.3" >20</text>
<line x1="478.1" y1="76.60" x2="484.6" y2="76.60" stroke="#1a1a1a" stroke-width="1.2"/>
<text x="455.30" y="81.50" font-family='"Liberation Serif", serif' font-size="14.8" text-anchor="start" fill="#222" font-weight="normal" font-style="normal" textLength="15.50" lengthAdjust="spacingAndGlyphs" stroke="#222" stroke-width="0.3" >30</text>
<line x1="478.1" y1="34.60" x2="484.6" y2="34.60" stroke="#1a1a1a" stroke-width="1.2"/>
<text x="455.30" y="39.50" font-family='"Liberation Serif", serif' font-size="14.8" text-anchor="start" fill="#222" font-weight="normal" font-style="normal" textLength="15.50" lengthAdjust="spacingAndGlyphs" stroke="#222" stroke-width="0.3" >40</text>
<line x1="478.1" y1="181.60" x2="481.6" y2="181.60" stroke="#1a1a1a" stroke-width="1.2"/>
<line x1="478.1" y1="139.60" x2="481.6" y2="139.60" stroke="#1a1a1a" stroke-width="1.2"/>
<line x1="478.1" y1="97.60" x2="481.6" y2="97.60" stroke="#1a1a1a" stroke-width="1.2"/>
<line x1="478.1" y1="55.60" x2="481.6" y2="55.60" stroke="#1a1a1a" stroke-width="1.2"/>
<rect x="478.1" y="13.7" width="235.50" height="197.70" fill="none" stroke="#1a1a1a" stroke-width="1.5"/>
<circle cx="480.65" cy="200.71" r="3.0" fill="#f4f9fe" stroke="#2c4f78" stroke-width="1.7"/>
<text x="621.5" y="45.9" font-family='"Liberation Serif", serif' font-size="16.6" text-anchor="start" fill="#222" font-weight="normal" font-style="normal" textLength="29.6" lengthAdjust="spacingAndGlyphs" stroke="#222" stroke-width="0.3" >SNR</text>
<text x="655.4" y="45.9" font-family='"Liberation Serif", serif' font-size="16.6" text-anchor="start" fill="#222" font-weight="normal" font-style="normal" textLength="11.6" lengthAdjust="spacingAndGlyphs" stroke="#222" stroke-width="0.3" >=</text>
<text x="670.8" y="45.9" font-family='"Liberation Serif", serif' font-size="16.6" text-anchor="start" fill="#222" font-weight="normal" font-style="normal" textLength="29.8" lengthAdjust="spacingAndGlyphs" stroke="#222" stroke-width="0.3" >24.2</text>
<text transform="translate(441.0,119.5) rotate(-90)" font-family='"Liberation Serif", serif' font-size="15.8" text-anchor="middle" fill="#222" stroke="#222" stroke-width="0.3" textLength="77" lengthAdjust="spacingAndGlyphs">Signal (μV)</text>
<text x="520.7" y="251.2" font-family='"Liberation Serif", serif' font-size="15.8" text-anchor="start" fill="#222" font-weight="normal" font-style="normal" textLength="69.3" lengthAdjust="spacingAndGlyphs" stroke="#222" stroke-width="0.3" >Frequency</text>
<text x="596.6" y="251.2" font-family='"Liberation Serif", serif' font-size="15.8" text-anchor="start" fill="#222" font-weight="normal" font-style="normal" textLength="9.6" lengthAdjust="spacingAndGlyphs" stroke="#222" stroke-width="0.3" >−</text>
<text x="614.3" y="251.2" font-family='"Liberation Serif", serif' font-size="15.8" text-anchor="start" fill="#222" font-weight="normal" font-style="normal" stroke="#222" stroke-width="0.3" >δ</text>
<text x="628.3" y="251.2" font-family='"Liberation Serif", serif' font-size="15.8" text-anchor="start" fill="#222" font-weight="normal" font-style="normal" textLength="44.7" lengthAdjust="spacingAndGlyphs" stroke="#222" stroke-width="0.3" >(mHz)</text>
<text x="419.3" y="12.7" font-family='"Liberation Sans", sans-serif' font-size="15.9" text-anchor="start" fill="#000" font-weight="bold" font-style="normal" >C</text>
</g>
<g id="panelB">
<clipPath id="clipB"><rect x="140.9" y="280.6" width="563.60" height="208.60"/></clipPath>
<line x1="203.50" y1="280.6" x2="203.50" y2="489.2" stroke="#f0f0f0" stroke-width="1"/>
<line x1="240.50" y1="280.6" x2="240.50" y2="489.2" stroke="#f0f0f0" stroke-width="1"/>
<line x1="266.50" y1="280.6" x2="266.50" y2="489.2" stroke="#f0f0f0" stroke-width="1"/>
<line x1="286.50" y1="280.6" x2="286.50" y2="489.2" stroke="#f0f0f0" stroke-width="1"/>
<line x1="303.50" y1="280.6" x2="303.50" y2="489.2" stroke="#f0f0f0" stroke-width="1"/>
<line x1="317.50" y1="280.6" x2="317.50" y2="489.2" stroke="#f0f0f0" stroke-width="1"/>
<line x1="329.50" y1="280.6" x2="329.50" y2="489.2" stroke="#f0f0f0" stroke-width="1"/>
<line x1="340.50" y1="280.6" x2="340.50" y2="489.2" stroke="#f0f0f0" stroke-width="1"/>
<line x1="412.50" y1="280.6" x2="412.50" y2="489.2" stroke="#f0f0f0" stroke-width="1"/>
<line x1="449.50" y1="280.6" x2="449.50" y2="489.2" stroke="#f0f0f0" stroke-width="1"/>
<line x1="475.50" y1="280.6" x2="475.50" y2="489.2" stroke="#f0f0f0" stroke-width="1"/>
<line x1="495.50" y1="280.6" x2="495.50" y2="489.2" stroke="#f0f0f0" stroke-width="1"/>
<line x1="512.50" y1="280.6" x2="512.50" y2="489.2" stroke="#f0f0f0" stroke-width="1"/>
<line x1="526.50" y1="280.6" x2="526.50" y2="489.2" stroke="#f0f0f0" stroke-width="1"/>
<line x1="538.50" y1="280.6" x2="538.50" y2="489.2" stroke="#f0f0f0" stroke-width="1"/>
<line x1="548.50" y1="280.6" x2="548.50" y2="489.2" stroke="#f0f0f0" stroke-width="1"/>
<line x1="621.50" y1="280.6" x2="621.50" y2="489.2" stroke="#f0f0f0" stroke-width="1"/>
<line x1="658.50" y1="280.6" x2="658.50" y2="489.2" stroke="#f0f0f0" stroke-width="1"/>
<line x1="684.50" y1="280.6" x2="684.50" y2="489.2" stroke="#f0f0f0" stroke-width="1"/>
<line x1="349.50" y1="280.6" x2="349.50" y2="489.2" stroke="#b8b8b8" stroke-width="1"/>
<line x1="558.50" y1="280.6" x2="558.50" y2="489.2" stroke="#b8b8b8" stroke-width="1"/>
<line x1="140.9" y1="443.50" x2="704.5" y2="443.50" stroke="#dcdcdc" stroke-width="1"/>
<line x1="140.9" y1="389.50" x2="704.5" y2="389.50" stroke="#dcdcdc" stroke-width="1"/>
<line x1="140.9" y1="335.50" x2="704.5" y2="335.50" stroke="#dcdcdc" stroke-width="1"/>
<path d="M140.9,489.2 L140.90,479.57 L145.67,479.57 L150.43,479.57 L155.20,479.57 L159.96,479.56 L164.73,479.56 L169.49,479.56 L174.26,479.56 L179.02,479.56 L183.79,479.56 L188.56,479.56 L193.32,479.56 L198.09,479.55 L202.85,479.55 L207.62,479.55 L212.38,479.55 L217.15,479.55 L221.91,479.54 L226.68,479.54 L231.45,479.54 L236.21,479.53 L240.98,479.53 L245.74,479.52 L250.51,479.52 L255.27,479.51 L260.04,479.50 L264.80,479.50 L269.57,479.49 L274.34,479.48 L279.10,479.47 L283.87,479.46 L288.63,479.44 L293.40,479.43 L298.16,479.41 L302.93,479.40 L307.69,479.38 L312.46,479.35 L317.23,479.33 L321.99,479.30 L326.76,479.27 L331.52,479.24 L336.29,479.21 L341.05,479.17 L345.82,479.12 L350.58,479.07 L355.35,479.02 L360.12,478.96 L364.88,478.89 L369.65,478.82 L374.41,478.74 L379.18,478.65 L383.94,478.55 L388.71,478.44 L393.47,478.33 L398.24,478.19 L403.01,478.05 L407.77,477.89 L412.54,477.72 L417.30,477.53 L422.07,477.33 L426.83,477.10 L431.60,476.86 L436.36,476.59 L441.13,476.31 L445.90,475.99 L450.66,475.66 L455.43,475.29 L460.19,474.90 L464.96,474.48 L469.72,474.03 L474.49,473.55 L479.25,473.04 L484.02,472.50 L488.79,471.92 L493.55,471.31 L498.32,470.67 L503.08,470.00 L507.85,469.29 L512.61,468.56 L517.38,467.79 L522.14,466.99 L526.91,466.16 L531.68,465.30 L536.44,464.42 L541.21,463.51 L545.97,462.57 L550.74,461.62 L555.50,460.63 L560.27,459.63 L565.03,458.61 L569.80,457.57 L574.57,456.51 L579.33,455.44 L584.10,454.35 L588.86,453.25 L593.63,452.14 L598.39,451.01 L603.16,449.88 L607.92,448.73 L612.69,447.58 L617.46,446.41 L622.22,445.24 L626.99,444.07 L631.75,442.88 L636.52,441.69 L641.28,440.50 L646.05,439.30 L650.81,438.10 L655.58,436.89 L660.35,435.68 L665.11,434.47 L669.88,433.25 L674.64,432.04 L679.41,430.82 L684.17,429.59 L688.94,428.37 L693.70,427.14 L698.47,425.91 L703.24,424.69 L704.50,423.46 L704.5,489.2 Z" fill="#afcce6" clip-path="url(#clipB)"/>
<path d="M140.90,404.00 L141.80,404.20 L150.60,406.90 L159.60,407.90 L168.70,409.40 L183.80,409.70 L190.60,412.00 L203.40,412.20 L215.50,415.50 L228.30,414.00 L238.10,418.50 L240.70,415.90 L243.40,418.90 L248.70,420.80 L255.50,423.50 L260.00,423.80 L264.30,424.10 L266.60,420.50 L268.90,424.50 L274.20,423.80 L279.40,420.00 L283.20,422.00 L285.00,416.20 L285.50,380.00 L286.70,289.00 L289.00,301.00 L289.60,380.00 L290.50,417.70 L292.30,423.80 L295.30,424.50 L298.00,426.00 L300.60,415.00 L303.60,427.50 L306.20,424.50 L308.10,427.50 L314.20,429.50 L316.10,422.70 L317.60,426.00 L320.60,425.30 L327.00,429.50 L328.50,423.80 L330.30,431.30 L335.30,432.50 L338.30,425.00 L340.60,431.30 L347.40,433.60 L348.40,425.30 L349.10,433.00 L349.90,365.60 L350.90,425.00 L351.80,435.40 L356.00,437.40 L356.90,427.70 L357.70,437.60 L362.00,438.80 L364.50,438.80 L365.00,427.70 L365.70,438.80 L367.90,437.90 L368.80,429.40 L369.40,437.10 L370.50,399.70 L371.50,435.40 L372.20,428.60 L373.00,436.20 L377.30,437.40 L378.30,428.60 L379.30,437.10 L383.20,436.70 L384.90,427.70 L385.80,420.90 L386.40,313.90 L387.40,400.00 L388.50,420.90 L389.50,414.50 L390.50,419.20 L392.50,410.70 L395.60,401.40 L397.60,415.80 L400.20,426.90 L401.50,429.40 L402.00,392.90 L402.70,431.10 L404.40,432.00 L405.40,426.90 L406.50,431.10 L409.50,433.70 L411.60,431.10 L412.60,374.60 L413.60,429.40 L415.50,426.90 L418.00,419.20 L419.40,398.00 L420.60,409.00 L421.70,413.30 L422.80,404.80 L423.90,402.30 L425.40,332.10 L426.60,390.00 L427.70,420.10 L429.00,400.60 L430.40,373.70 L431.60,404.00 L432.30,418.40 L433.10,349.00 L434.60,411.60 L437.50,389.00 L439.80,402.30 L441.80,414.10 L444.30,395.50 L444.90,393.20 L446.00,404.80 L447.70,387.00 L448.90,383.60 L449.50,377.90 L450.00,346.50 L450.60,352.00 L451.70,327.80 L452.50,360.90 L453.30,387.00 L455.40,404.80 L457.40,406.50 L459.60,397.20 L461.00,373.70 L462.20,387.00 L463.50,386.10 L465.60,409.90 L466.40,407.40 L467.00,373.70 L468.10,404.00 L470.00,355.86 L470.00,355.80 L470.45,369.96 L470.90,384.03 L471.00,387.00 L471.35,386.69 L471.80,385.90 L472.25,385.31 L472.70,384.15 L472.70,384.40 L473.15,390.02 L473.60,395.91 L474.05,401.40 L474.40,405.70 L474.50,405.49 L474.95,403.12 L475.40,401.38 L475.40,401.40 L475.85,410.52 L476.10,415.80 L476.30,418.02 L476.75,422.99 L476.80,423.50 L477.20,423.54 L477.65,424.02 L477.80,424.30 L478.10,425.83 L478.55,428.69 L479.00,431.09 L479.45,433.22 L479.50,433.70 L479.90,434.68 L480.35,435.18 L480.80,436.37 L481.20,437.10 L481.25,435.93 L481.70,427.39 L481.70,427.70 L482.15,433.67 L482.50,437.90 L482.60,437.97 L483.05,439.11 L483.50,440.74 L483.95,441.81 L484.20,442.20 L484.40,442.16 L484.85,442.81 L485.30,442.74 L485.75,443.05 L485.90,443.00 L486.20,438.24 L486.40,435.40 L486.65,438.28 L487.10,442.76 L487.30,444.70 L487.55,441.98 L488.00,436.47 L488.00,436.20 L488.45,443.71 L488.70,448.10 L488.90,448.46 L489.35,449.34 L489.80,450.35 L490.20,451.50 L490.25,451.22 L490.70,451.64 L491.15,452.11 L491.60,451.93 L492.05,452.66 L492.50,452.67 L492.70,452.90 L492.95,452.56 L493.40,452.56 L493.85,451.94 L494.30,451.45 L494.40,451.50 L494.75,446.61 L495.20,440.51 L495.65,433.75 L495.80,432.00 L496.10,437.80 L496.50,444.70 L496.55,444.19 L497.00,443.48 L497.10,443.00 L497.45,445.97 L497.90,448.81 L498.20,451.50 L498.35,451.73 L498.80,451.39 L499.25,451.56 L499.70,451.11 L500.15,451.14 L500.40,451.50 L500.60,450.43 L501.05,449.22 L501.50,446.76 L501.95,445.39 L502.40,443.69 L502.85,441.87 L502.90,441.30 L503.30,436.64 L503.75,431.55 L503.80,431.10 L504.20,403.28 L504.30,396.30 L504.65,413.08 L505.00,429.40 L505.10,429.46 L505.55,431.77 L506.00,433.58 L506.30,434.50 L506.45,434.53 L506.90,432.96 L507.20,432.80 L507.35,433.65 L507.80,434.30 L508.25,435.90 L508.30,436.20 L508.70,438.80 L509.15,441.89 L509.60,444.20 L510.05,447.54 L510.50,450.01 L510.60,450.60 L510.95,448.22 L511.40,445.38 L511.85,442.41 L512.20,440.50 L512.30,440.49 L512.75,442.25 L513.10,443.90 L513.20,443.77 L513.65,442.67 L514.10,440.50 L514.55,439.01 L515.00,438.51 L515.45,436.69 L515.60,436.20 L515.90,424.21 L516.20,412.40 L516.35,418.10 L516.80,436.29 L516.80,436.20 L517.25,440.77 L517.70,444.66 L517.70,444.70 L518.15,440.81 L518.60,436.64 L519.05,433.67 L519.50,428.98 L519.60,428.60 L519.95,428.31 L520.40,428.29 L520.70,427.70 L520.85,426.59 L521.30,424.98 L521.75,423.00 L521.90,421.80 L522.20,424.65 L522.65,428.90 L523.10,432.28 L523.30,434.50 L523.55,436.03 L524.00,438.60 L524.10,439.60 L524.45,430.04 L524.90,416.72 L525.00,414.10 L525.35,415.88 L525.80,418.81 L526.25,421.01 L526.30,420.90 L526.70,425.94 L527.15,430.48 L527.50,434.50 L527.60,434.99 L528.05,437.50 L528.50,439.48 L528.95,441.52 L529.20,443.00 L529.40,441.89 L529.85,439.36 L530.30,437.36 L530.75,435.79 L530.90,434.50 L531.20,433.96 L531.65,432.02 L532.10,430.30 L532.10,430.30 L532.55,427.93 L533.00,425.46 L533.45,423.48 L533.50,423.50 L533.90,425.91 L534.35,428.37 L534.80,430.14 L534.80,430.30 L535.25,425.53 L535.70,420.42 L536.00,416.70 L536.15,418.30 L536.60,422.39 L537.05,426.63 L537.20,427.70 L537.50,423.73 L537.95,418.42 L538.20,415.00 L538.40,416.36 L538.85,420.24 L539.30,424.23 L539.75,427.78 L540.20,430.94 L540.30,432.00 L540.65,424.54 L541.10,413.90 L541.55,403.54 L541.60,402.30 L542.00,403.28 L542.45,405.71 L542.90,407.12 L543.30,409.00 L543.35,409.67 L543.80,413.56 L544.25,418.14 L544.70,422.08 L545.15,426.41 L545.60,429.99 L545.70,431.10 L546.05,431.71 L546.50,432.37 L546.95,433.03 L547.10,432.80 L547.40,433.79 L547.85,436.18 L548.30,437.98 L548.40,437.90 L548.75,437.48 L549.20,437.00 L549.30,436.20 L549.65,438.96 L550.10,441.18 L550.55,443.99 L550.80,445.50 L551.00,445.46 L551.45,447.24 L551.90,448.28 L552.35,448.57 L552.50,448.90 L552.80,448.91 L553.25,448.59 L553.50,448.10 L553.70,438.89 L554.00,424.30 L554.15,429.13 L554.60,445.76 L554.70,448.90 L555.05,449.13 L555.50,449.40 L555.95,449.23 L556.40,449.66 L556.85,450.02 L557.30,449.99 L557.30,449.80 L557.75,446.30 L558.20,441.53 L558.60,438.80 L558.65,438.79 L559.10,443.30 L559.55,447.72 L559.80,449.80 L560.00,448.81 L560.45,448.11 L560.90,446.68 L561.35,444.50 L561.50,444.70 L561.80,438.54 L562.25,429.01 L562.50,424.30 L562.70,427.06 L563.15,434.83 L563.60,442.74 L563.70,444.70 L564.05,445.47 L564.50,447.06 L564.90,448.90 L564.95,448.22 L565.40,448.73 L565.85,448.50 L566.30,448.73 L566.75,448.60 L567.20,447.97 L567.65,448.85 L568.10,447.41 L568.30,448.10 L568.55,447.66 L569.00,446.94 L569.45,446.61 L569.90,445.63 L570.35,446.18 L570.50,445.50 L570.80,441.32 L571.20,436.20 L571.25,436.16 L571.70,443.02 L571.90,445.50 L572.15,444.80 L572.60,445.33 L573.05,444.85 L573.50,445.07 L573.95,445.49 L574.20,444.70 L574.40,444.64 L574.85,442.77 L575.10,442.20 L575.30,443.74 L575.75,445.83 L575.90,446.40 L576.20,444.30 L576.65,441.09 L577.10,438.95 L577.10,438.80 L577.55,442.25 L578.00,446.22 L578.00,445.50 L578.45,446.24 L578.90,445.67 L579.35,445.26 L579.80,446.13 L580.25,444.70 L580.70,444.87 L581.15,445.61 L581.60,445.69 L581.90,445.50 L582.05,442.39 L582.50,435.60 L582.60,433.70 L582.95,440.75 L583.20,444.70 L583.40,444.38 L583.85,444.21 L584.30,443.61 L584.75,443.45 L585.20,444.31 L585.65,443.06 L586.10,443.77 L586.10,443.00 L586.55,442.92 L587.00,441.63 L587.10,441.30 L587.45,434.39 L587.60,432.00 L587.90,436.79 L588.30,441.30 L588.35,441.19 L588.80,440.16 L589.25,439.09 L589.70,439.32 L590.15,437.59 L590.40,437.10 L590.60,435.83 L591.05,434.12 L591.50,431.47 L591.95,430.29 L592.10,429.40 L592.40,416.60 L592.70,404.00 L592.85,405.25 L593.30,410.92 L593.75,415.83 L593.80,415.80 L594.20,423.45 L594.60,432.80 L594.65,433.06 L595.10,434.40 L595.55,437.36 L596.00,438.90 L596.30,439.60 L596.45,439.30 L596.90,439.79 L597.35,440.04 L597.80,441.97 L598.00,441.30 L598.25,437.90 L598.70,432.99 L598.70,432.80 L599.15,436.22 L599.60,439.99 L599.70,440.50 L600.05,436.80 L600.50,432.06 L600.70,429.40 L600.95,421.43 L601.40,409.47 L601.40,409.00 L601.85,417.46 L602.30,426.70 L602.40,428.60 L602.75,430.37 L603.20,432.95 L603.40,434.50 L603.65,434.17 L604.10,433.35 L604.50,432.80 L604.55,432.78 L605.00,435.56 L605.45,437.37 L605.60,437.90 L605.90,437.25 L606.35,437.93 L606.80,438.59 L607.00,438.80 L607.25,431.06 L607.70,415.70 L607.70,415.00 L608.15,426.05 L608.50,434.50 L608.60,434.01 L609.05,437.16 L609.50,438.28 L609.60,438.80 L609.95,439.08 L610.40,439.50 L610.85,439.54 L611.30,439.45 L611.60,439.60 L611.75,440.28 L612.20,439.09 L612.65,438.88 L613.10,439.49 L613.55,438.07 L614.00,438.03 L614.45,438.78 L614.90,437.16 L615.00,437.90 L615.35,438.35 L615.80,437.88 L616.25,437.19 L616.70,436.71 L616.70,437.10 L617.15,428.43 L617.20,426.90 L617.60,431.03 L618.05,433.42 L618.10,434.50 L618.50,434.82 L618.95,435.36 L619.10,435.40 L619.40,429.78 L619.80,422.30 L619.85,422.70 L620.30,428.79 L620.60,433.70 L620.75,432.86 L621.20,430.27 L621.50,427.70 L621.65,427.96 L622.10,431.40 L622.55,435.64 L622.60,435.40 L623.00,435.54 L623.45,434.85 L623.90,433.22 L624.30,433.70 L624.35,433.87 L624.80,432.20 L625.20,429.40 L625.25,430.59 L625.70,432.46 L626.00,433.70 L626.15,432.67 L626.60,433.55 L627.05,431.81 L627.50,432.01 L627.95,431.99 L628.40,430.96 L628.60,430.30 L628.85,427.99 L629.30,425.34 L629.75,423.57 L630.20,419.20 L630.30,419.20 L630.65,420.78 L631.10,422.18 L631.55,423.47 L631.60,424.30 L632.00,422.83 L632.45,419.84 L632.80,419.20 L632.90,418.82 L633.35,420.92 L633.80,421.93 L634.25,423.49 L634.50,425.20 L634.70,425.73 L635.15,426.93 L635.60,428.06 L636.05,427.56 L636.50,429.00 L636.95,429.66 L637.10,430.30 L637.40,426.96 L637.85,421.47 L637.90,420.90 L638.30,413.49 L638.60,406.50 L638.75,408.93 L639.20,416.35 L639.60,424.30 L639.65,425.19 L640.10,428.87 L640.50,433.70 L640.55,434.00 L641.00,434.21 L641.30,434.50 L641.45,432.36 L641.90,422.95 L642.00,420.90 L642.35,426.73 L642.80,433.25 L642.80,433.70 L643.25,433.80 L643.70,433.24 L644.15,434.17 L644.60,433.73 L645.05,433.01 L645.50,433.20 L645.60,433.70 L645.95,433.22 L646.40,433.60 L646.85,432.24 L647.30,432.95 L647.75,432.53 L648.10,432.00 L648.20,430.84 L648.65,430.24 L649.00,428.60 L649.10,428.14 L649.55,429.61 L649.80,431.10 L650.00,431.08 L650.45,429.95 L650.90,430.72 L651.35,429.51 L651.50,429.40 L651.80,429.31 L652.25,430.58 L652.70,429.49 L653.15,431.19 L653.20,430.80 L653.60,429.60 L654.05,429.39 L654.50,430.52 L654.95,429.61 L655.40,428.34 L655.70,428.60 L655.85,427.04 L656.30,426.20 L656.75,423.14 L657.10,420.90 L657.20,419.89 L657.65,411.27 L658.10,404.89 L658.30,401.40 L658.55,406.68 L659.00,416.47 L659.10,419.20 L659.45,419.73 L659.90,421.36 L660.35,421.95 L660.50,422.60 L660.80,422.89 L661.25,423.18 L661.70,425.28 L662.15,425.69 L662.50,426.00 L662.60,426.64 L663.05,426.17 L663.50,427.21 L663.95,426.81 L664.40,427.20 L664.85,427.41 L665.10,427.40 L665.30,427.78 L665.75,426.94 L666.20,426.18 L666.65,425.87 L667.10,426.02 L667.55,425.52 L668.00,426.98 L668.45,426.01 L668.90,426.37 L669.30,425.70 L669.35,424.71 L669.80,425.38 L670.25,425.95 L670.70,425.19 L671.15,424.58 L671.60,424.42 L672.05,423.47 L672.50,423.34 L672.95,423.11 L673.40,423.29 L673.85,423.07 L674.30,423.79 L674.40,423.00 L674.75,422.20 L675.20,422.25 L675.65,422.14 L676.10,421.76 L676.55,421.85 L677.00,421.60 L677.45,421.92 L677.90,420.89 L678.35,422.48 L678.80,421.24 L679.25,422.20 L679.70,421.56 L680.15,421.38 L680.60,420.83 L681.05,421.60 L681.50,419.83 L681.95,420.75 L682.40,419.86 L682.85,420.46 L682.90,420.10 L683.30,420.39 L683.75,419.10 L684.20,418.99 L684.65,418.47 L685.10,418.69 L685.55,418.21 L686.00,418.67 L686.45,419.61 L686.90,418.23 L687.35,417.95 L687.80,418.08 L688.25,417.53 L688.70,418.24 L689.15,418.03 L689.60,416.76 L690.05,416.73 L690.50,417.40 L690.95,417.75 L691.40,416.99 L691.40,416.70 L691.85,416.41 L692.30,417.33 L692.75,415.26 L693.20,415.22 L693.65,416.49 L694.10,415.60 L694.55,414.72 L695.00,415.57 L695.45,416.29 L695.90,415.20 L696.35,414.71 L696.80,414.05 L697.25,413.85 L697.70,415.34 L698.15,414.38 L698.60,415.11 L699.05,413.20 L699.50,413.43 L699.90,413.80 L699.95,412.88 L700.40,413.39 L700.85,412.54 L701.30,412.75 L701.75,412.87 L702.20,412.48 L702.65,411.79 L703.10,411.58 L703.55,413.27 L704.00,411.50 L704.10,412.10" fill="none" stroke="#375d88" stroke-width="1.45" stroke-linejoin="round" clip-path="url(#clipB)"/>
<rect x="490.1" y="280.6" width="4.4" height="208.60" fill="#eb4b55" fill-opacity="0.72"/>
<line x1="203.50" y1="280.6" x2="203.50" y2="284.0" stroke="#1a1a1a" stroke-width="1.2"/>
<line x1="203.50" y1="489.2" x2="203.50" y2="485.8" stroke="#1a1a1a" stroke-width="1.2"/>
<line x1="240.50" y1="280.6" x2="240.50" y2="284.0" stroke="#1a1a1a" stroke-width="1.2"/>
<line x1="240.50" y1="489.2" x2="240.50" y2="485.8" stroke="#1a1a1a" stroke-width="1.2"/>
<line x1="266.50" y1="280.6" x2="266.50" y2="284.0" stroke="#1a1a1a" stroke-width="1.2"/>
<line x1="266.50" y1="489.2" x2="266.50" y2="485.8" stroke="#1a1a1a" stroke-width="1.2"/>
<line x1="286.50" y1="280.6" x2="286.50" y2="284.0" stroke="#1a1a1a" stroke-width="1.2"/>
<line x1="286.50" y1="489.2" x2="286.50" y2="485.8" stroke="#1a1a1a" stroke-width="1.2"/>
<line x1="303.50" y1="280.6" x2="303.50" y2="284.0" stroke="#1a1a1a" stroke-width="1.2"/>
<line x1="303.50" y1="489.2" x2="303.50" y2="485.8" stroke="#1a1a1a" stroke-width="1.2"/>
<line x1="317.50" y1="280.6" x2="317.50" y2="284.0" stroke="#1a1a1a" stroke-width="1.2"/>
<line x1="317.50" y1="489.2" x2="317.50" y2="485.8" stroke="#1a1a1a" stroke-width="1.2"/>
<line x1="329.50" y1="280.6" x2="329.50" y2="284.0" stroke="#1a1a1a" stroke-width="1.2"/>
<line x1="329.50" y1="489.2" x2="329.50" y2="485.8" stroke="#1a1a1a" stroke-width="1.2"/>
<line x1="340.50" y1="280.6" x2="340.50" y2="284.0" stroke="#1a1a1a" stroke-width="1.2"/>
<line x1="340.50" y1="489.2" x2="340.50" y2="485.8" stroke="#1a1a1a" stroke-width="1.2"/>
<line x1="412.50" y1="280.6" x2="412.50" y2="284.0" stroke="#1a1a1a" stroke-width="1.2"/>
<line x1="412.50" y1="489.2" x2="412.50" y2="485.8" stroke="#1a1a1a" stroke-width="1.2"/>
<line x1="449.50" y1="280.6" x2="449.50" y2="284.0" stroke="#1a1a1a" stroke-width="1.2"/>
<line x1="449.50" y1="489.2" x2="449.50" y2="485.8" stroke="#1a1a1a" stroke-width="1.2"/>
<line x1="475.50" y1="280.6" x2="475.50" y2="284.0" stroke="#1a1a1a" stroke-width="1.2"/>
<line x1="475.50" y1="489.2" x2="475.50" y2="485.8" stroke="#1a1a1a" stroke-width="1.2"/>
<line x1="495.50" y1="280.6" x2="495.50" y2="284.0" stroke="#1a1a1a" stroke-width="1.2"/>
<line x1="495.50" y1="489.2" x2="495.50" y2="485.8" stroke="#1a1a1a" stroke-width="1.2"/>
<line x1="512.50" y1="280.6" x2="512.50" y2="284.0" stroke="#1a1a1a" stroke-width="1.2"/>
<line x1="512.50" y1="489.2" x2="512.50" y2="485.8" stroke="#1a1a1a" stroke-width="1.2"/>
<line x1="526.50" y1="280.6" x2="526.50" y2="284.0" stroke="#1a1a1a" stroke-width="1.2"/>
<line x1="526.50" y1="489.2" x2="526.50" y2="485.8" stroke="#1a1a1a" stroke-width="1.2"/>
<line x1="538.50" y1="280.6" x2="538.50" y2="284.0" stroke="#1a1a1a" stroke-width="1.2"/>
<line x1="538.50" y1="489.2" x2="538.50" y2="485.8" stroke="#1a1a1a" stroke-width="1.2"/>
<line x1="548.50" y1="280.6" x2="548.50" y2="284.0" stroke="#1a1a1a" stroke-width="1.2"/>
<line x1="548.50" y1="489.2" x2="548.50" y2="485.8" stroke="#1a1a1a" stroke-width="1.2"/>
<line x1="621.50" y1="280.6" x2="621.50" y2="284.0" stroke="#1a1a1a" stroke-width="1.2"/>
<line x1="621.50" y1="489.2" x2="621.50" y2="485.8" stroke="#1a1a1a" stroke-width="1.2"/>
<line x1="658.50" y1="280.6" x2="658.50" y2="284.0" stroke="#1a1a1a" stroke-width="1.2"/>
<line x1="658.50" y1="489.2" x2="658.50" y2="485.8" stroke="#1a1a1a" stroke-width="1.2"/>
<line x1="684.50" y1="280.6" x2="684.50" y2="284.0" stroke="#1a1a1a" stroke-width="1.2"/>
<line x1="684.50" y1="489.2" x2="684.50" y2="485.8" stroke="#1a1a1a" stroke-width="1.2"/>
<line x1="349.50" y1="280.6" x2="349.50" y2="287.40000000000003" stroke="#1a1a1a" stroke-width="1.3"/>
<line x1="349.50" y1="489.2" x2="349.50" y2="482.4" stroke="#1a1a1a" stroke-width="1.3"/>
<line x1="558.50" y1="280.6" x2="558.50" y2="287.40000000000003" stroke="#1a1a1a" stroke-width="1.3"/>
<line x1="558.50" y1="489.2" x2="558.50" y2="482.4" stroke="#1a1a1a" stroke-width="1.3"/>
<line x1="140.9" y1="481.82" x2="144.3" y2="481.82" stroke="#1a1a1a" stroke-width="1.2"/>
<line x1="704.5" y1="481.82" x2="701.1" y2="481.82" stroke="#1a1a1a" stroke-width="1.2"/>
<line x1="140.9" y1="472.24" x2="144.3" y2="472.24" stroke="#1a1a1a" stroke-width="1.2"/>
<line x1="704.5" y1="472.24" x2="701.1" y2="472.24" stroke="#1a1a1a" stroke-width="1.2"/>
<line x1="140.9" y1="465.45" x2="144.3" y2="465.45" stroke="#1a1a1a" stroke-width="1.2"/>
<line x1="704.5" y1="465.45" x2="701.1" y2="465.45" stroke="#1a1a1a" stroke-width="1.2"/>
<line x1="140.9" y1="460.18" x2="144.3" y2="460.18" stroke="#1a1a1a" stroke-width="1.2"/>
<line x1="704.5" y1="460.18" x2="701.1" y2="460.18" stroke="#1a1a1a" stroke-width="1.2"/>
<line x1="140.9" y1="455.87" x2="144.3" y2="455.87" stroke="#1a1a1a" stroke-width="1.2"/>
<line x1="704.5" y1="455.87" x2="701.1" y2="455.87" stroke="#1a1a1a" stroke-width="1.2"/>
<line x1="140.9" y1="452.23" x2="144.3" y2="452.23" stroke="#1a1a1a" stroke-width="1.2"/>
<line x1="704.5" y1="452.23" x2="701.1" y2="452.23" stroke="#1a1a1a" stroke-width="1.2"/>
<line x1="140.9" y1="449.07" x2="144.3" y2="449.07" stroke="#1a1a1a" stroke-width="1.2"/>
<line x1="704.5" y1="449.07" x2="701.1" y2="449.07" stroke="#1a1a1a" stroke-width="1.2"/>
<line x1="140.9" y1="446.29" x2="144.3" y2="446.29" stroke="#1a1a1a" stroke-width="1.2"/>
<line x1="704.5" y1="446.29" x2="701.1" y2="446.29" stroke="#1a1a1a" stroke-width="1.2"/>
<line x1="140.9" y1="443.80" x2="147.70000000000002" y2="443.80" stroke="#1a1a1a" stroke-width="1.2"/>
<line x1="704.5" y1="443.80" x2="697.7" y2="443.80" stroke="#1a1a1a" stroke-width="1.2"/>
<line x1="140.9" y1="427.42" x2="144.3" y2="427.42" stroke="#1a1a1a" stroke-width="1.2"/>
<line x1="704.5" y1="427.42" x2="701.1" y2="427.42" stroke="#1a1a1a" stroke-width="1.2"/>
<line x1="140.9" y1="417.84" x2="144.3" y2="417.84" stroke="#1a1a1a" stroke-width="1.2"/>
<line x1="704.5" y1="417.84" x2="701.1" y2="417.84" stroke="#1a1a1a" stroke-width="1.2"/>
<line x1="140.9" y1="411.05" x2="144.3" y2="411.05" stroke="#1a1a1a" stroke-width="1.2"/>
<line x1="704.5" y1="411.05" x2="701.1" y2="411.05" stroke="#1a1a1a" stroke-width="1.2"/>
<line x1="140.9" y1="405.78" x2="144.3" y2="405.78" stroke="#1a1a1a" stroke-width="1.2"/>
<line x1="704.5" y1="405.78" x2="701.1" y2="405.78" stroke="#1a1a1a" stroke-width="1.2"/>
<line x1="140.9" y1="401.47" x2="144.3" y2="401.47" stroke="#1a1a1a" stroke-width="1.2"/>
<line x1="704.5" y1="401.47" x2="701.1" y2="401.47" stroke="#1a1a1a" stroke-width="1.2"/>
<line x1="140.9" y1="397.83" x2="144.3" y2="397.83" stroke="#1a1a1a" stroke-width="1.2"/>
<line x1="704.5" y1="397.83" x2="701.1" y2="397.83" stroke="#1a1a1a" stroke-width="1.2"/>
<line x1="140.9" y1="394.67" x2="144.3" y2="394.67" stroke="#1a1a1a" stroke-width="1.2"/>
<line x1="704.5" y1="394.67" x2="701.1" y2="394.67" stroke="#1a1a1a" stroke-width="1.2"/>
<line x1="140.9" y1="391.89" x2="144.3" y2="391.89" stroke="#1a1a1a" stroke-width="1.2"/>
<line x1="704.5" y1="391.89" x2="701.1" y2="391.89" stroke="#1a1a1a" stroke-width="1.2"/>
<line x1="140.9" y1="389.40" x2="147.70000000000002" y2="389.40" stroke="#1a1a1a" stroke-width="1.2"/>
<line x1="704.5" y1="389.40" x2="697.7" y2="389.40" stroke="#1a1a1a" stroke-width="1.2"/>
<line x1="140.9" y1="373.02" x2="144.3" y2="373.02" stroke="#1a1a1a" stroke-width="1.2"/>
<line x1="704.5" y1="373.02" x2="701.1" y2="373.02" stroke="#1a1a1a" stroke-width="1.2"/>
<line x1="140.9" y1="363.44" x2="144.3" y2="363.44" stroke="#1a1a1a" stroke-width="1.2"/>
<line x1="704.5" y1="363.44" x2="701.1" y2="363.44" stroke="#1a1a1a" stroke-width="1.2"/>
<line x1="140.9" y1="356.65" x2="144.3" y2="356.65" stroke="#1a1a1a" stroke-width="1.2"/>
<line x1="704.5" y1="356.65" x2="701.1" y2="356.65" stroke="#1a1a1a" stroke-width="1.2"/>
<line x1="140.9" y1="351.38" x2="144.3" y2="351.38" stroke="#1a1a1a" stroke-width="1.2"/>
<line x1="704.5" y1="351.38" x2="701.1" y2="351.38" stroke="#1a1a1a" stroke-width="1.2"/>
<line x1="140.9" y1="347.07" x2="144.3" y2="347.07" stroke="#1a1a1a" stroke-width="1.2"/>
<line x1="704.5" y1="347.07" x2="701.1" y2="347.07" stroke="#1a1a1a" stroke-width="1.2"/>
<line x1="140.9" y1="343.43" x2="144.3" y2="343.43" stroke="#1a1a1a" stroke-width="1.2"/>
<line x1="704.5" y1="343.43" x2="701.1" y2="343.43" stroke="#1a1a1a" stroke-width="1.2"/>
<line x1="140.9" y1="340.27" x2="144.3" y2="340.27" stroke="#1a1a1a" stroke-width="1.2"/>
<line x1="704.5" y1="340.27" x2="701.1" y2="340.27" stroke="#1a1a1a" stroke-width="1.2"/>
<line x1="140.9" y1="337.49" x2="144.3" y2="337.49" stroke="#1a1a1a" stroke-width="1.2"/>
<line x1="704.5" y1="337.49" x2="701.1" y2="337.49" stroke="#1a1a1a" stroke-width="1.2"/>
<line x1="140.9" y1="335.00" x2="147.70000000000002" y2="335.00" stroke="#1a1a1a" stroke-width="1.2"/>
<line x1="704.5" y1="335.00" x2="697.7" y2="335.00" stroke="#1a1a1a" stroke-width="1.2"/>
<line x1="140.9" y1="318.62" x2="144.3" y2="318.62" stroke="#1a1a1a" stroke-width="1.2"/>
<line x1="704.5" y1="318.62" x2="701.1" y2="318.62" stroke="#1a1a1a" stroke-width="1.2"/>
<line x1="140.9" y1="309.04" x2="144.3" y2="309.04" stroke="#1a1a1a" stroke-width="1.2"/>
<line x1="704.5" y1="309.04" x2="701.1" y2="309.04" stroke="#1a1a1a" stroke-width="1.2"/>
<line x1="140.9" y1="302.25" x2="144.3" y2="302.25" stroke="#1a1a1a" stroke-width="1.2"/>
<line x1="704.5" y1="302.25" x2="701.1" y2="302.25" stroke="#1a1a1a" stroke-width="1.2"/>
<line x1="140.9" y1="296.98" x2="144.3" y2="296.98" stroke="#1a1a1a" stroke-width="1.2"/>
<line x1="704.5" y1="296.98" x2="701.1" y2="296.98" stroke="#1a1a1a" stroke-width="1.2"/>
<line x1="140.9" y1="292.67" x2="144.3" y2="292.67" stroke="#1a1a1a" stroke-width="1.2"/>
<line x1="704.5" y1="292.67" x2="701.1" y2="292.67" stroke="#1a1a1a" stroke-width="1.2"/>
<line x1="140.9" y1="289.03" x2="144.3" y2="289.03" stroke="#1a1a1a" stroke-width="1.2"/>
<line x1="704.5" y1="289.03" x2="701.1" y2="289.03" stroke="#1a1a1a" stroke-width="1.2"/>
<line x1="140.9" y1="285.87" x2="144.3" y2="285.87" stroke="#1a1a1a" stroke-width="1.2"/>
<line x1="704.5" y1="285.87" x2="701.1" y2="285.87" stroke="#1a1a1a" stroke-width="1.2"/>
<line x1="140.9" y1="283.09" x2="144.3" y2="283.09" stroke="#1a1a1a" stroke-width="1.2"/>
<line x1="704.5" y1="283.09" x2="701.1" y2="283.09" stroke="#1a1a1a" stroke-width="1.2"/>
<rect x="140.9" y="280.6" width="563.60" height="208.60" fill="none" stroke="#1a1a1a" stroke-width="1.5"/>
<text x="118.6" y="340.5" font-family='"Liberation Serif", serif' font-size="15.2" fill="#222" text-anchor="start">10<tspan font-size="10.5" dy="-5.5">3</tspan></text>
<text x="118.6" y="394.90000000000003" font-family='"Liberation Serif", serif' font-size="15.2" fill="#222" text-anchor="start">10<tspan font-size="10.5" dy="-5.5">2</tspan></text>
<text x="118.6" y="449.1" font-family='"Liberation Serif", serif' font-size="15.2" text-anchor="start" fill="#222" font-weight="normal" font-style="normal" stroke="#222" stroke-width="0.3" >10</text>
<text x="135.4" y="505.2" font-family='"Liberation Serif", serif' font-size="15.2" text-anchor="start" fill="#222" font-weight="normal" font-style="normal" textLength="15.4" lengthAdjust="spacingAndGlyphs" stroke="#222" stroke-width="0.3" >10</text>
<text x="340.0" y="505.3" font-family='"Liberation Serif", serif' font-size="15.2" fill="#222" text-anchor="start">10<tspan font-size="10.5" dy="-5.5">2</tspan></text>
<text x="548.2" y="505.3" font-family='"Liberation Serif", serif' font-size="15.2" fill="#222" text-anchor="start">10<tspan font-size="10.5" dy="-5.5">3</tspan></text>
<text transform="translate(108.5,468.9) rotate(-90)" font-family='"Liberation Serif", serif' font-size="15.8" text-anchor="start" fill="#222" stroke="#222" stroke-width="0.3" textLength="72.4" lengthAdjust="spacingAndGlyphs">Sensitivity</text>
<text transform="translate(108.5,389.9) rotate(-90)" font-family='"Liberation Serif", serif' font-size="15.8" text-anchor="start" fill="#222" stroke="#222" stroke-width="0.3" textLength="33.4" lengthAdjust="spacingAndGlyphs">(pT/</text>
<text transform="translate(108.5,345.9) rotate(-90)" font-family='"Liberation Serif", serif' font-size="15.8" text-anchor="start" fill="#222" stroke="#222" stroke-width="0.3" textLength="22.9" lengthAdjust="spacingAndGlyphs">Hz)</text>
<path d="M102.6,356.4 L101.6,355.2 L108.2,353.2 L95.2,346.9 L95.9,346.5" fill="none" stroke="#222" stroke-width="1.0" stroke-linejoin="miter"/>
<line x1="96.2" y1="346.8" x2="96.2" y2="329.0" stroke="#555" stroke-width="0.7"/>
<text x="392.8" y="525.3" font-family='"Liberation Serif", serif' font-size="17.5" text-anchor="start" fill="#222" font-weight="normal" font-style="normal" textLength="49" lengthAdjust="spacingAndGlyphs" stroke="#222" stroke-width="0.3" >δ (Hz)</text>
<text x="80.8" y="277.4" font-family='"Liberation Sans", sans-serif' font-size="15.7" text-anchor="start" fill="#000" font-weight="bold" font-style="normal" >B</text>
</g>
<text x="701.8" y="524.8" font-family='"Liberation Sans", sans-serif' font-size="10" text-anchor="start" fill="#f3cdd1" font-weight="normal" font-style="normal" textLength="83.2" lengthAdjust="spacingAndGlyphs" >SCIENCEAQ.COM</text>
</svg></body></html>
